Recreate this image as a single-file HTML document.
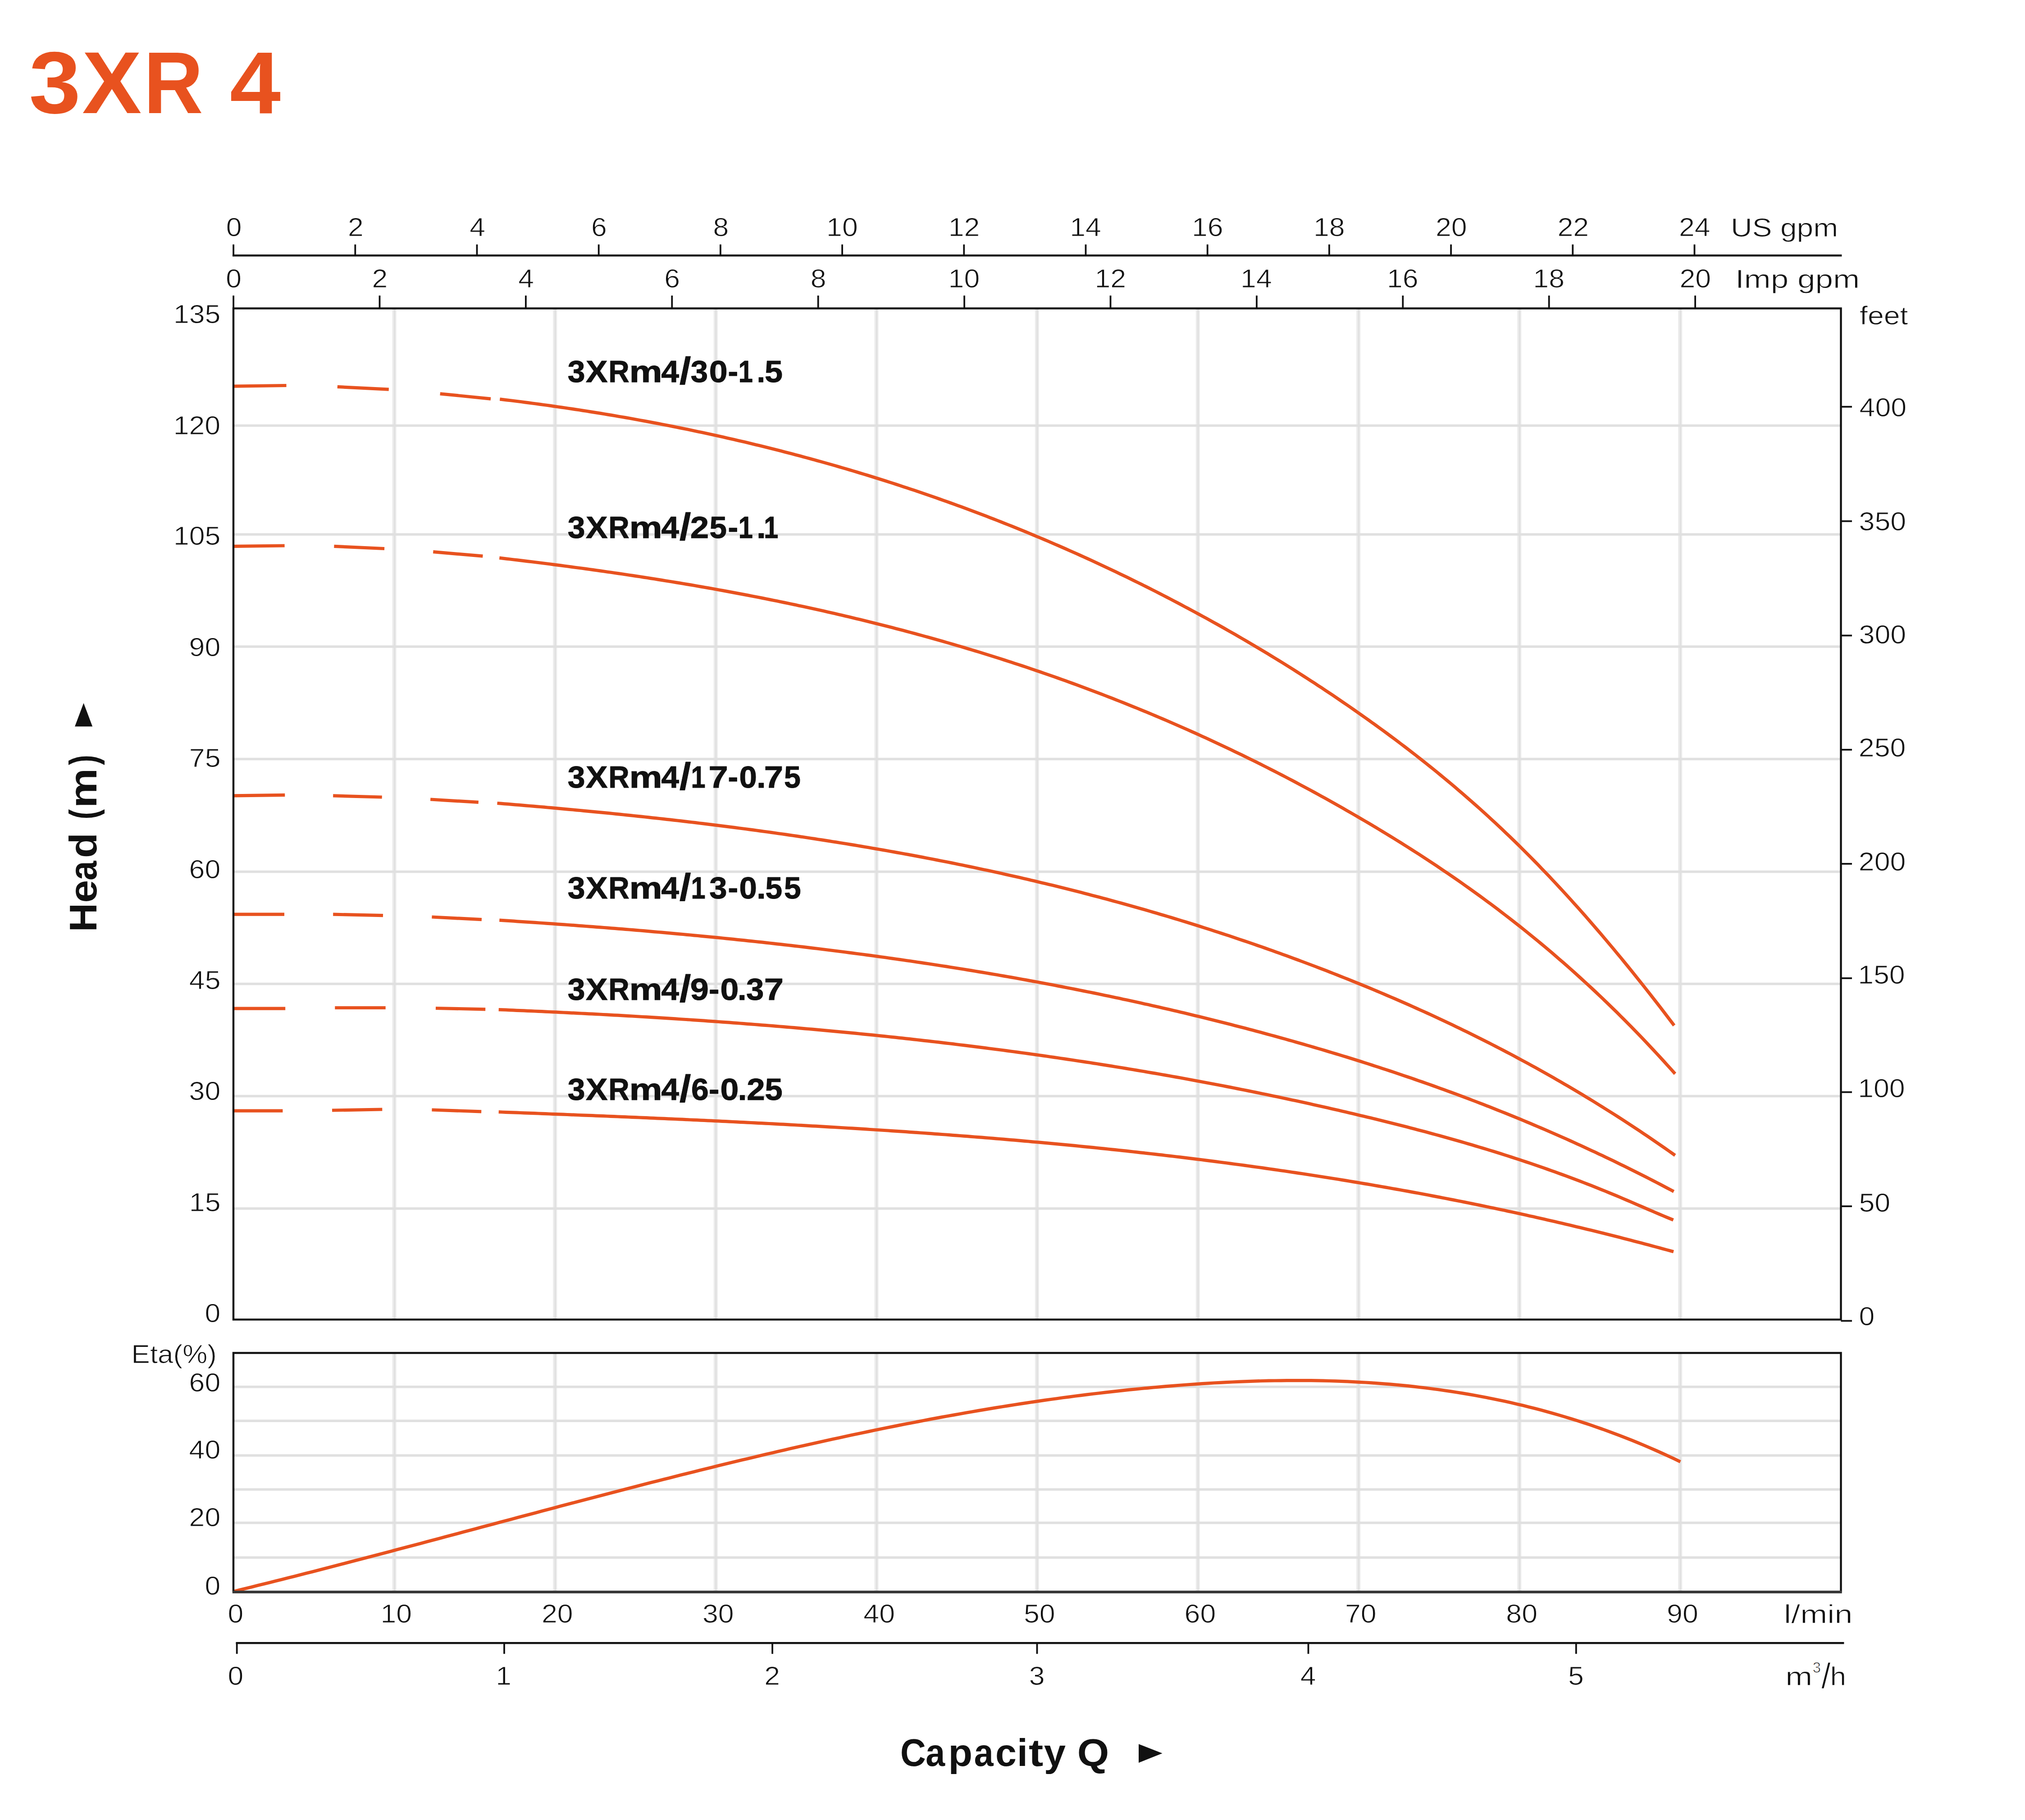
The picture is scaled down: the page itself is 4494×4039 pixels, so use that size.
<!DOCTYPE html>
<html><head><meta charset="utf-8"><title>3XR 4</title>
<style>
html,body{margin:0;padding:0;background:#fff;}
svg{display:block;}
text{font-family:"Liberation Sans",Arial,sans-serif;font-kerning:none;}
.r{stroke:#fff;stroke-width:1px;}
</style></head>
<body>
<svg xmlns="http://www.w3.org/2000/svg" width="4494" height="4039" viewBox="0 0 4494 4039">
<rect width="4494" height="4039" fill="#fff"/>
<line x1="875.0" y1="684.4" x2="875.0" y2="2928.4" stroke="#ECECEC" stroke-width="9" stroke-linecap="butt"/>
<line x1="875.0" y1="3002.5" x2="875.0" y2="3532.5" stroke="#ECECEC" stroke-width="9" stroke-linecap="butt"/>
<line x1="875.5" y1="684.4" x2="875.5" y2="2928.4" stroke="#E0E0E0" stroke-width="3.2" stroke-linecap="butt"/>
<line x1="875.5" y1="3002.5" x2="875.5" y2="3532.5" stroke="#E0E0E0" stroke-width="3.2" stroke-linecap="butt"/>
<line x1="1231.7" y1="684.4" x2="1231.7" y2="2928.4" stroke="#ECECEC" stroke-width="9" stroke-linecap="butt"/>
<line x1="1231.7" y1="3002.5" x2="1231.7" y2="3532.5" stroke="#ECECEC" stroke-width="9" stroke-linecap="butt"/>
<line x1="1232.2" y1="684.4" x2="1232.2" y2="2928.4" stroke="#E0E0E0" stroke-width="3.2" stroke-linecap="butt"/>
<line x1="1232.2" y1="3002.5" x2="1232.2" y2="3532.5" stroke="#E0E0E0" stroke-width="3.2" stroke-linecap="butt"/>
<line x1="1588.3" y1="684.4" x2="1588.3" y2="2928.4" stroke="#ECECEC" stroke-width="9" stroke-linecap="butt"/>
<line x1="1588.3" y1="3002.5" x2="1588.3" y2="3532.5" stroke="#ECECEC" stroke-width="9" stroke-linecap="butt"/>
<line x1="1588.8" y1="684.4" x2="1588.8" y2="2928.4" stroke="#E0E0E0" stroke-width="3.2" stroke-linecap="butt"/>
<line x1="1588.8" y1="3002.5" x2="1588.8" y2="3532.5" stroke="#E0E0E0" stroke-width="3.2" stroke-linecap="butt"/>
<line x1="1945.1" y1="684.4" x2="1945.1" y2="2928.4" stroke="#ECECEC" stroke-width="9" stroke-linecap="butt"/>
<line x1="1945.1" y1="3002.5" x2="1945.1" y2="3532.5" stroke="#ECECEC" stroke-width="9" stroke-linecap="butt"/>
<line x1="1945.6" y1="684.4" x2="1945.6" y2="2928.4" stroke="#E0E0E0" stroke-width="3.2" stroke-linecap="butt"/>
<line x1="1945.6" y1="3002.5" x2="1945.6" y2="3532.5" stroke="#E0E0E0" stroke-width="3.2" stroke-linecap="butt"/>
<line x1="2301.3" y1="684.4" x2="2301.3" y2="2928.4" stroke="#ECECEC" stroke-width="9" stroke-linecap="butt"/>
<line x1="2301.3" y1="3002.5" x2="2301.3" y2="3532.5" stroke="#ECECEC" stroke-width="9" stroke-linecap="butt"/>
<line x1="2301.8" y1="684.4" x2="2301.8" y2="2928.4" stroke="#E0E0E0" stroke-width="3.2" stroke-linecap="butt"/>
<line x1="2301.8" y1="3002.5" x2="2301.8" y2="3532.5" stroke="#E0E0E0" stroke-width="3.2" stroke-linecap="butt"/>
<line x1="2658.3" y1="684.4" x2="2658.3" y2="2928.4" stroke="#ECECEC" stroke-width="9" stroke-linecap="butt"/>
<line x1="2658.3" y1="3002.5" x2="2658.3" y2="3532.5" stroke="#ECECEC" stroke-width="9" stroke-linecap="butt"/>
<line x1="2658.8" y1="684.4" x2="2658.8" y2="2928.4" stroke="#E0E0E0" stroke-width="3.2" stroke-linecap="butt"/>
<line x1="2658.8" y1="3002.5" x2="2658.8" y2="3532.5" stroke="#E0E0E0" stroke-width="3.2" stroke-linecap="butt"/>
<line x1="3014.7" y1="684.4" x2="3014.7" y2="2928.4" stroke="#ECECEC" stroke-width="9" stroke-linecap="butt"/>
<line x1="3014.7" y1="3002.5" x2="3014.7" y2="3532.5" stroke="#ECECEC" stroke-width="9" stroke-linecap="butt"/>
<line x1="3015.2" y1="684.4" x2="3015.2" y2="2928.4" stroke="#E0E0E0" stroke-width="3.2" stroke-linecap="butt"/>
<line x1="3015.2" y1="3002.5" x2="3015.2" y2="3532.5" stroke="#E0E0E0" stroke-width="3.2" stroke-linecap="butt"/>
<line x1="3371.8" y1="684.4" x2="3371.8" y2="2928.4" stroke="#ECECEC" stroke-width="9" stroke-linecap="butt"/>
<line x1="3371.8" y1="3002.5" x2="3371.8" y2="3532.5" stroke="#ECECEC" stroke-width="9" stroke-linecap="butt"/>
<line x1="3372.3" y1="684.4" x2="3372.3" y2="2928.4" stroke="#E0E0E0" stroke-width="3.2" stroke-linecap="butt"/>
<line x1="3372.3" y1="3002.5" x2="3372.3" y2="3532.5" stroke="#E0E0E0" stroke-width="3.2" stroke-linecap="butt"/>
<line x1="3728.7" y1="684.4" x2="3728.7" y2="2928.4" stroke="#ECECEC" stroke-width="9" stroke-linecap="butt"/>
<line x1="3728.7" y1="3002.5" x2="3728.7" y2="3532.5" stroke="#ECECEC" stroke-width="9" stroke-linecap="butt"/>
<line x1="3729.2" y1="684.4" x2="3729.2" y2="2928.4" stroke="#E0E0E0" stroke-width="3.2" stroke-linecap="butt"/>
<line x1="3729.2" y1="3002.5" x2="3729.2" y2="3532.5" stroke="#E0E0E0" stroke-width="3.2" stroke-linecap="butt"/>
<line x1="518.0" y1="944.4" x2="4085.5" y2="944.4" stroke="#E0E0E0" stroke-width="5.5" stroke-linecap="butt"/>
<line x1="518.0" y1="1186.0" x2="4085.5" y2="1186.0" stroke="#E0E0E0" stroke-width="5.5" stroke-linecap="butt"/>
<line x1="518.0" y1="1435.0" x2="4085.5" y2="1435.0" stroke="#E0E0E0" stroke-width="5.5" stroke-linecap="butt"/>
<line x1="518.0" y1="1684.4" x2="4085.5" y2="1684.4" stroke="#E0E0E0" stroke-width="5.5" stroke-linecap="butt"/>
<line x1="518.0" y1="1934.4" x2="4085.5" y2="1934.4" stroke="#E0E0E0" stroke-width="5.5" stroke-linecap="butt"/>
<line x1="518.0" y1="2183.5" x2="4085.5" y2="2183.5" stroke="#E0E0E0" stroke-width="5.5" stroke-linecap="butt"/>
<line x1="518.0" y1="2432.6" x2="4085.5" y2="2432.6" stroke="#E0E0E0" stroke-width="5.5" stroke-linecap="butt"/>
<line x1="518.0" y1="2682.0" x2="4085.5" y2="2682.0" stroke="#E0E0E0" stroke-width="5.5" stroke-linecap="butt"/>
<line x1="518.0" y1="3077.8" x2="4085.5" y2="3077.8" stroke="#E0E0E0" stroke-width="5.5" stroke-linecap="butt"/>
<line x1="518.0" y1="3153.3" x2="4085.5" y2="3153.3" stroke="#E0E0E0" stroke-width="5.5" stroke-linecap="butt"/>
<line x1="518.0" y1="3230.0" x2="4085.5" y2="3230.0" stroke="#E0E0E0" stroke-width="5.5" stroke-linecap="butt"/>
<line x1="518.0" y1="3305.5" x2="4085.5" y2="3305.5" stroke="#E0E0E0" stroke-width="5.5" stroke-linecap="butt"/>
<line x1="518.0" y1="3379.5" x2="4085.5" y2="3379.5" stroke="#E0E0E0" stroke-width="5.5" stroke-linecap="butt"/>
<line x1="518.0" y1="3456.5" x2="4085.5" y2="3456.5" stroke="#E0E0E0" stroke-width="5.5" stroke-linecap="butt"/>
<line x1="518.0" y1="857.1" x2="635.5" y2="855.5" stroke="#E8521F" stroke-width="7.2" stroke-linecap="butt"/>
<line x1="748.8" y1="858.4" x2="862.8" y2="864.2" stroke="#E8521F" stroke-width="7.2" stroke-linecap="butt"/>
<line x1="976.7" y1="873.8" x2="1089.0" y2="885.1" stroke="#E8521F" stroke-width="7.2" stroke-linecap="butt"/>
<path d="M1109.3,885.9 L1117.3,886.9 L1125.3,887.8 L1133.3,888.8 L1141.3,889.8 L1149.3,890.8 L1157.3,891.8 L1165.3,892.9 L1173.3,893.9 L1181.3,895.0 L1189.3,896.0 L1197.3,897.1 L1205.3,898.2 L1213.3,899.3 L1221.3,900.4 L1229.3,901.6 L1237.3,902.7 L1245.3,903.9 L1253.3,905.0 L1261.3,906.2 L1269.3,907.4 L1277.3,908.6 L1285.3,909.8 L1293.3,911.1 L1301.3,912.3 L1309.3,913.6 L1317.3,914.9 L1325.3,916.1 L1333.3,917.4 L1341.3,918.8 L1349.3,920.1 L1357.3,921.4 L1365.3,922.8 L1373.3,924.2 L1381.3,925.5 L1389.3,926.9 L1397.3,928.3 L1405.3,929.8 L1413.3,931.2 L1421.3,932.7 L1429.3,934.1 L1437.3,935.6 L1445.3,937.1 L1453.3,938.6 L1461.3,940.1 L1469.3,941.7 L1477.3,943.2 L1485.3,944.8 L1493.3,946.4 L1501.3,948.0 L1509.3,949.6 L1517.3,951.2 L1525.3,952.8 L1533.3,954.5 L1541.3,956.2 L1549.3,957.9 L1557.3,959.6 L1565.3,961.3 L1573.3,963.0 L1581.3,964.7 L1589.3,966.5 L1597.3,968.3 L1605.3,970.1 L1613.3,971.9 L1621.3,973.7 L1629.3,975.5 L1637.3,977.4 L1645.3,979.2 L1653.3,981.1 L1661.3,983.0 L1669.3,984.9 L1677.3,986.9 L1685.3,988.8 L1693.3,990.8 L1701.3,992.8 L1709.3,994.8 L1717.3,996.8 L1725.3,998.8 L1733.3,1000.8 L1741.3,1002.9 L1749.3,1005.0 L1757.3,1007.1 L1765.3,1009.2 L1773.3,1011.3 L1781.3,1013.4 L1789.3,1015.6 L1797.3,1017.8 L1805.3,1019.9 L1813.3,1022.2 L1821.3,1024.4 L1829.3,1026.6 L1837.3,1028.9 L1845.3,1031.1 L1853.3,1033.4 L1861.3,1035.7 L1869.3,1038.1 L1877.3,1040.4 L1885.3,1042.8 L1893.3,1045.1 L1901.3,1047.5 L1909.3,1050.0 L1917.3,1052.4 L1925.3,1054.8 L1933.3,1057.3 L1941.3,1059.8 L1949.3,1062.3 L1957.3,1064.8 L1965.3,1067.3 L1973.3,1069.9 L1981.3,1072.4 L1989.3,1075.0 L1997.3,1077.6 L2005.3,1080.3 L2013.3,1082.9 L2021.3,1085.6 L2029.3,1088.2 L2037.3,1090.9 L2045.3,1093.6 L2053.3,1096.4 L2061.3,1099.1 L2069.3,1101.9 L2077.3,1104.7 L2085.3,1107.5 L2093.3,1110.3 L2101.3,1113.2 L2109.3,1116.0 L2117.3,1118.9 L2125.3,1121.8 L2133.3,1124.7 L2141.3,1127.7 L2149.3,1130.6 L2157.3,1133.6 L2165.3,1136.6 L2173.3,1139.6 L2181.3,1142.7 L2189.3,1145.7 L2197.3,1148.8 L2205.3,1151.9 L2213.3,1155.0 L2221.3,1158.2 L2229.3,1161.3 L2237.3,1164.5 L2245.3,1167.7 L2253.3,1170.9 L2261.3,1174.2 L2269.3,1177.4 L2277.3,1180.7 L2285.3,1184.0 L2293.3,1187.3 L2301.3,1190.7 L2309.3,1194.0 L2317.3,1197.4 L2325.3,1200.8 L2333.3,1204.2 L2341.3,1207.7 L2349.3,1211.1 L2357.3,1214.6 L2365.3,1218.1 L2373.3,1221.7 L2381.3,1225.2 L2389.3,1228.8 L2397.3,1232.4 L2405.3,1236.0 L2413.3,1239.6 L2421.3,1243.3 L2429.3,1247.0 L2437.3,1250.7 L2445.3,1254.4 L2453.3,1258.2 L2461.3,1261.9 L2469.3,1265.7 L2477.3,1269.5 L2485.3,1273.4 L2493.3,1277.2 L2501.3,1281.1 L2509.3,1285.0 L2517.3,1288.9 L2525.3,1292.9 L2533.3,1296.8 L2541.3,1300.8 L2549.3,1304.8 L2557.3,1308.9 L2565.3,1312.9 L2573.3,1317.0 L2581.3,1321.1 L2589.3,1325.3 L2597.3,1329.4 L2605.3,1333.6 L2613.3,1337.8 L2621.3,1342.0 L2629.3,1346.3 L2637.3,1350.5 L2645.3,1354.8 L2653.3,1359.1 L2661.3,1363.5 L2669.3,1367.8 L2677.3,1372.2 L2685.3,1376.6 L2693.3,1381.1 L2701.3,1385.5 L2709.3,1390.0 L2717.3,1394.5 L2725.3,1399.1 L2733.3,1403.6 L2741.3,1408.2 L2749.3,1412.8 L2757.3,1417.5 L2765.3,1422.2 L2773.3,1426.8 L2781.3,1431.6 L2789.3,1436.3 L2797.3,1441.1 L2805.3,1445.9 L2813.3,1450.7 L2821.3,1455.6 L2829.3,1460.5 L2837.3,1465.4 L2845.3,1470.3 L2853.3,1475.3 L2861.3,1480.3 L2869.3,1485.3 L2877.3,1490.4 L2885.3,1495.5 L2893.3,1500.6 L2901.3,1505.7 L2909.3,1510.9 L2917.3,1516.1 L2925.3,1521.4 L2933.3,1526.6 L2941.3,1531.9 L2949.3,1537.3 L2957.3,1542.6 L2965.3,1548.0 L2973.3,1553.5 L2981.3,1558.9 L2989.3,1564.4 L2997.3,1569.9 L3005.3,1575.5 L3013.3,1581.1 L3021.3,1586.7 L3029.3,1592.4 L3037.3,1598.0 L3045.3,1603.8 L3053.3,1609.5 L3061.3,1615.3 L3069.3,1621.2 L3077.3,1627.0 L3085.3,1633.0 L3093.3,1638.9 L3101.3,1644.9 L3109.3,1651.0 L3117.3,1657.0 L3125.3,1663.2 L3133.3,1669.3 L3141.3,1675.5 L3149.3,1681.8 L3157.3,1688.1 L3165.3,1694.5 L3173.3,1700.9 L3181.3,1707.3 L3189.3,1713.8 L3197.3,1720.4 L3205.3,1727.0 L3213.3,1733.6 L3221.3,1740.3 L3229.3,1747.1 L3237.3,1753.9 L3245.3,1760.8 L3253.3,1767.7 L3261.3,1774.7 L3269.3,1781.7 L3277.3,1788.8 L3285.3,1795.9 L3293.3,1803.2 L3301.3,1810.4 L3309.3,1817.8 L3317.3,1825.2 L3325.3,1832.6 L3333.3,1840.2 L3341.3,1847.8 L3349.3,1855.4 L3357.3,1863.1 L3365.3,1870.9 L3373.3,1878.8 L3381.3,1886.7 L3389.3,1894.7 L3397.3,1902.8 L3405.3,1910.9 L3413.3,1919.1 L3421.3,1927.4 L3429.3,1935.7 L3437.3,1944.1 L3445.3,1952.6 L3453.3,1961.1 L3461.3,1969.7 L3469.3,1978.4 L3477.3,1987.1 L3485.3,1995.9 L3493.3,2004.8 L3501.3,2013.7 L3509.3,2022.7 L3517.3,2031.7 L3525.3,2040.9 L3533.3,2050.1 L3541.3,2059.3 L3549.3,2068.6 L3557.3,2078.0 L3565.3,2087.5 L3573.3,2097.0 L3581.3,2106.5 L3589.3,2116.2 L3597.3,2125.8 L3605.3,2135.6 L3613.3,2145.4 L3621.3,2155.3 L3629.3,2165.2 L3637.3,2175.2 L3645.3,2185.2 L3653.3,2195.4 L3661.3,2205.5 L3669.3,2215.7 L3677.3,2226.0 L3685.3,2236.3 L3693.3,2246.7 L3701.3,2257.2 L3709.3,2267.7 L3715.4,2275.7" fill="none" stroke="#E8521F" stroke-width="7.2" stroke-linejoin="round" stroke-linecap="butt"/>
<line x1="518.0" y1="1212.4" x2="631.6" y2="1211.0" stroke="#E8521F" stroke-width="7.2" stroke-linecap="butt"/>
<line x1="741.4" y1="1212.4" x2="853.1" y2="1217.5" stroke="#E8521F" stroke-width="7.2" stroke-linecap="butt"/>
<line x1="961.3" y1="1224.6" x2="1071.4" y2="1234.2" stroke="#E8521F" stroke-width="7.2" stroke-linecap="butt"/>
<path d="M1108.3,1238.2 L1116.3,1239.1 L1124.3,1240.1 L1132.3,1241.0 L1140.3,1242.0 L1148.3,1242.9 L1156.3,1243.9 L1164.3,1244.9 L1172.3,1245.8 L1180.3,1246.8 L1188.3,1247.8 L1196.3,1248.8 L1204.3,1249.8 L1212.3,1250.8 L1220.3,1251.8 L1228.3,1252.9 L1236.3,1253.9 L1244.3,1254.9 L1252.3,1256.0 L1260.3,1257.0 L1268.3,1258.1 L1276.3,1259.2 L1284.3,1260.2 L1292.3,1261.3 L1300.3,1262.4 L1308.3,1263.5 L1316.3,1264.6 L1324.3,1265.8 L1332.3,1266.9 L1340.3,1268.0 L1348.3,1269.2 L1356.3,1270.3 L1364.3,1271.5 L1372.3,1272.6 L1380.3,1273.8 L1388.3,1275.0 L1396.3,1276.2 L1404.3,1277.4 L1412.3,1278.6 L1420.3,1279.8 L1428.3,1281.1 L1436.3,1282.3 L1444.3,1283.6 L1452.3,1284.8 L1460.3,1286.1 L1468.3,1287.4 L1476.3,1288.7 L1484.3,1290.0 L1492.3,1291.3 L1500.3,1292.6 L1508.3,1293.9 L1516.3,1295.2 L1524.3,1296.6 L1532.3,1297.9 L1540.3,1299.3 L1548.3,1300.7 L1556.3,1302.1 L1564.3,1303.5 L1572.3,1304.9 L1580.3,1306.3 L1588.3,1307.7 L1596.3,1309.2 L1604.3,1310.6 L1612.3,1312.1 L1620.3,1313.6 L1628.3,1315.1 L1636.3,1316.6 L1644.3,1318.1 L1652.3,1319.6 L1660.3,1321.1 L1668.3,1322.7 L1676.3,1324.2 L1684.3,1325.8 L1692.3,1327.4 L1700.3,1329.0 L1708.3,1330.6 L1716.3,1332.2 L1724.3,1333.8 L1732.3,1335.5 L1740.3,1337.1 L1748.3,1338.8 L1756.3,1340.5 L1764.3,1342.1 L1772.3,1343.9 L1780.3,1345.6 L1788.3,1347.3 L1796.3,1349.0 L1804.3,1350.8 L1812.3,1352.6 L1820.3,1354.3 L1828.3,1356.1 L1836.3,1357.9 L1844.3,1359.8 L1852.3,1361.6 L1860.3,1363.4 L1868.3,1365.3 L1876.3,1367.2 L1884.3,1369.1 L1892.3,1371.0 L1900.3,1372.9 L1908.3,1374.8 L1916.3,1376.8 L1924.3,1378.7 L1932.3,1380.7 L1940.3,1382.7 L1948.3,1384.7 L1956.3,1386.7 L1964.3,1388.7 L1972.3,1390.8 L1980.3,1392.8 L1988.3,1394.9 L1996.3,1397.0 L2004.3,1399.1 L2012.3,1401.2 L2020.3,1403.4 L2028.3,1405.5 L2036.3,1407.7 L2044.3,1409.9 L2052.3,1412.1 L2060.3,1414.3 L2068.3,1416.5 L2076.3,1418.8 L2084.3,1421.0 L2092.3,1423.3 L2100.3,1425.6 L2108.3,1427.9 L2116.3,1430.2 L2124.3,1432.6 L2132.3,1434.9 L2140.3,1437.3 L2148.3,1439.7 L2156.3,1442.1 L2164.3,1444.5 L2172.3,1446.9 L2180.3,1449.4 L2188.3,1451.9 L2196.3,1454.4 L2204.3,1456.9 L2212.3,1459.4 L2220.3,1461.9 L2228.3,1464.5 L2236.3,1467.1 L2244.3,1469.7 L2252.3,1472.3 L2260.3,1474.9 L2268.3,1477.5 L2276.3,1480.2 L2284.3,1482.9 L2292.3,1485.6 L2300.3,1488.3 L2308.3,1491.0 L2316.3,1493.8 L2324.3,1496.6 L2332.3,1499.4 L2340.3,1502.2 L2348.3,1505.0 L2356.3,1507.8 L2364.3,1510.7 L2372.3,1513.6 L2380.3,1516.5 L2388.3,1519.4 L2396.3,1522.4 L2404.3,1525.3 L2412.3,1528.3 L2420.3,1531.3 L2428.3,1534.3 L2436.3,1537.3 L2444.3,1540.4 L2452.3,1543.5 L2460.3,1546.6 L2468.3,1549.7 L2476.3,1552.8 L2484.3,1556.0 L2492.3,1559.1 L2500.3,1562.3 L2508.3,1565.6 L2516.3,1568.8 L2524.3,1572.0 L2532.3,1575.3 L2540.3,1578.6 L2548.3,1581.9 L2556.3,1585.3 L2564.3,1588.6 L2572.3,1592.0 L2580.3,1595.4 L2588.3,1598.8 L2596.3,1602.3 L2604.3,1605.7 L2612.3,1609.2 L2620.3,1612.7 L2628.3,1616.2 L2636.3,1619.8 L2644.3,1623.4 L2652.3,1626.9 L2660.3,1630.6 L2668.3,1634.2 L2676.3,1637.8 L2684.3,1641.5 L2692.3,1645.2 L2700.3,1648.9 L2708.3,1652.7 L2716.3,1656.4 L2724.3,1660.2 L2732.3,1664.0 L2740.3,1667.9 L2748.3,1671.7 L2756.3,1675.6 L2764.3,1679.5 L2772.3,1683.4 L2780.3,1687.4 L2788.3,1691.3 L2796.3,1695.3 L2804.3,1699.4 L2812.3,1703.4 L2820.3,1707.5 L2828.3,1711.5 L2836.3,1715.6 L2844.3,1719.8 L2852.3,1723.9 L2860.3,1728.1 L2868.3,1732.3 L2876.3,1736.5 L2884.3,1740.8 L2892.3,1745.1 L2900.3,1749.4 L2908.3,1753.7 L2916.3,1758.0 L2924.3,1762.4 L2932.3,1766.8 L2940.3,1771.2 L2948.3,1775.7 L2956.3,1780.1 L2964.3,1784.6 L2972.3,1789.1 L2980.3,1793.7 L2988.3,1798.3 L2996.3,1802.8 L3004.3,1807.5 L3012.3,1812.1 L3020.3,1816.8 L3028.3,1821.5 L3036.3,1826.2 L3044.3,1830.9 L3052.3,1835.7 L3060.3,1840.5 L3068.3,1845.3 L3076.3,1850.2 L3084.3,1855.1 L3092.3,1860.0 L3100.3,1865.0 L3108.3,1869.9 L3116.3,1875.0 L3124.3,1880.0 L3132.3,1885.1 L3140.3,1890.2 L3148.3,1895.3 L3156.3,1900.5 L3164.3,1905.7 L3172.3,1911.0 L3180.3,1916.3 L3188.3,1921.6 L3196.3,1927.0 L3204.3,1932.4 L3212.3,1937.8 L3220.3,1943.3 L3228.3,1948.8 L3236.3,1954.3 L3244.3,1959.9 L3252.3,1965.6 L3260.3,1971.3 L3268.3,1977.0 L3276.3,1982.7 L3284.3,1988.5 L3292.3,1994.4 L3300.3,2000.3 L3308.3,2006.2 L3316.3,2012.2 L3324.3,2018.2 L3332.3,2024.3 L3340.3,2030.5 L3348.3,2036.6 L3356.3,2042.8 L3364.3,2049.1 L3372.3,2055.4 L3380.3,2061.8 L3388.3,2068.2 L3396.3,2074.7 L3404.3,2081.2 L3412.3,2087.8 L3420.3,2094.4 L3428.3,2101.1 L3436.3,2107.8 L3444.3,2114.6 L3452.3,2121.5 L3460.3,2128.4 L3468.3,2135.3 L3476.3,2142.3 L3484.3,2149.4 L3492.3,2156.5 L3500.3,2163.7 L3508.3,2171.0 L3516.3,2178.3 L3524.3,2185.6 L3532.3,2193.0 L3540.3,2200.5 L3548.3,2208.1 L3556.3,2215.7 L3564.3,2223.3 L3572.3,2231.1 L3580.3,2238.9 L3588.3,2246.7 L3596.3,2254.7 L3604.3,2262.6 L3612.3,2270.7 L3620.3,2278.8 L3628.3,2287.0 L3636.3,2295.3 L3644.3,2303.6 L3652.3,2312.0 L3660.3,2320.5 L3668.3,2329.0 L3676.3,2337.6 L3684.3,2346.3 L3692.3,2355.0 L3700.3,2363.8 L3708.3,2372.7 L3716.3,2381.7 L3717.5,2383.0" fill="none" stroke="#E8521F" stroke-width="7.2" stroke-linejoin="round" stroke-linecap="butt"/>
<line x1="518.0" y1="1765.9" x2="632.3" y2="1764.3" stroke="#E8521F" stroke-width="7.2" stroke-linecap="butt"/>
<line x1="739.2" y1="1765.9" x2="847.7" y2="1769.0" stroke="#E8521F" stroke-width="7.2" stroke-linecap="butt"/>
<line x1="955.2" y1="1774.0" x2="1061.8" y2="1780.4" stroke="#E8521F" stroke-width="7.2" stroke-linecap="butt"/>
<path d="M1103.5,1782.5 L1111.5,1783.1 L1119.5,1783.8 L1127.5,1784.4 L1135.5,1785.1 L1143.5,1785.8 L1151.5,1786.4 L1159.5,1787.1 L1167.5,1787.8 L1175.5,1788.5 L1183.5,1789.2 L1191.5,1789.8 L1199.5,1790.5 L1207.5,1791.2 L1215.5,1792.0 L1223.5,1792.7 L1231.5,1793.4 L1239.5,1794.1 L1247.5,1794.8 L1255.5,1795.6 L1263.5,1796.3 L1271.5,1797.0 L1279.5,1797.8 L1287.5,1798.5 L1295.5,1799.3 L1303.5,1800.1 L1311.5,1800.8 L1319.5,1801.6 L1327.5,1802.4 L1335.5,1803.2 L1343.5,1803.9 L1351.5,1804.7 L1359.5,1805.5 L1367.5,1806.4 L1375.5,1807.2 L1383.5,1808.0 L1391.5,1808.8 L1399.5,1809.6 L1407.5,1810.5 L1415.5,1811.3 L1423.5,1812.2 L1431.5,1813.0 L1439.5,1813.9 L1447.5,1814.8 L1455.5,1815.6 L1463.5,1816.5 L1471.5,1817.4 L1479.5,1818.3 L1487.5,1819.2 L1495.5,1820.1 L1503.5,1821.0 L1511.5,1821.9 L1519.5,1822.9 L1527.5,1823.8 L1535.5,1824.8 L1543.5,1825.7 L1551.5,1826.7 L1559.5,1827.6 L1567.5,1828.6 L1575.5,1829.6 L1583.5,1830.6 L1591.5,1831.6 L1599.5,1832.6 L1607.5,1833.6 L1615.5,1834.6 L1623.5,1835.6 L1631.5,1836.6 L1639.5,1837.7 L1647.5,1838.7 L1655.5,1839.8 L1663.5,1840.9 L1671.5,1841.9 L1679.5,1843.0 L1687.5,1844.1 L1695.5,1845.2 L1703.5,1846.3 L1711.5,1847.4 L1719.5,1848.5 L1727.5,1849.7 L1735.5,1850.8 L1743.5,1851.9 L1751.5,1853.1 L1759.5,1854.3 L1767.5,1855.4 L1775.5,1856.6 L1783.5,1857.8 L1791.5,1859.0 L1799.5,1860.2 L1807.5,1861.4 L1815.5,1862.7 L1823.5,1863.9 L1831.5,1865.1 L1839.5,1866.4 L1847.5,1867.7 L1855.5,1868.9 L1863.5,1870.2 L1871.5,1871.5 L1879.5,1872.8 L1887.5,1874.1 L1895.5,1875.4 L1903.5,1876.8 L1911.5,1878.1 L1919.5,1879.5 L1927.5,1880.8 L1935.5,1882.2 L1943.5,1883.6 L1951.5,1885.0 L1959.5,1886.4 L1967.5,1887.8 L1975.5,1889.2 L1983.5,1890.6 L1991.5,1892.1 L1999.5,1893.5 L2007.5,1895.0 L2015.5,1896.4 L2023.5,1897.9 L2031.5,1899.4 L2039.5,1900.9 L2047.5,1902.4 L2055.5,1904.0 L2063.5,1905.5 L2071.5,1907.0 L2079.5,1908.6 L2087.5,1910.2 L2095.5,1911.8 L2103.5,1913.3 L2111.5,1914.9 L2119.5,1916.6 L2127.5,1918.2 L2135.5,1919.8 L2143.5,1921.5 L2151.5,1923.1 L2159.5,1924.8 L2167.5,1926.5 L2175.5,1928.2 L2183.5,1929.9 L2191.5,1931.6 L2199.5,1933.3 L2207.5,1935.1 L2215.5,1936.8 L2223.5,1938.6 L2231.5,1940.4 L2239.5,1942.2 L2247.5,1944.0 L2255.5,1945.8 L2263.5,1947.6 L2271.5,1949.5 L2279.5,1951.3 L2287.5,1953.2 L2295.5,1955.1 L2303.5,1957.0 L2311.5,1958.9 L2319.5,1960.8 L2327.5,1962.7 L2335.5,1964.6 L2343.5,1966.6 L2351.5,1968.6 L2359.5,1970.5 L2367.5,1972.5 L2375.5,1974.5 L2383.5,1976.6 L2391.5,1978.6 L2399.5,1980.6 L2407.5,1982.7 L2415.5,1984.8 L2423.5,1986.9 L2431.5,1989.0 L2439.5,1991.1 L2447.5,1993.2 L2455.5,1995.3 L2463.5,1997.5 L2471.5,1999.7 L2479.5,2001.9 L2487.5,2004.0 L2495.5,2006.3 L2503.5,2008.5 L2511.5,2010.7 L2519.5,2013.0 L2527.5,2015.2 L2535.5,2017.5 L2543.5,2019.8 L2551.5,2022.1 L2559.5,2024.5 L2567.5,2026.8 L2575.5,2029.2 L2583.5,2031.5 L2591.5,2033.9 L2599.5,2036.3 L2607.5,2038.7 L2615.5,2041.1 L2623.5,2043.6 L2631.5,2046.0 L2639.5,2048.5 L2647.5,2051.0 L2655.5,2053.5 L2663.5,2056.0 L2671.5,2058.6 L2679.5,2061.1 L2687.5,2063.7 L2695.5,2066.3 L2703.5,2068.9 L2711.5,2071.5 L2719.5,2074.1 L2727.5,2076.7 L2735.5,2079.4 L2743.5,2082.1 L2751.5,2084.8 L2759.5,2087.5 L2767.5,2090.2 L2775.5,2092.9 L2783.5,2095.7 L2791.5,2098.5 L2799.5,2101.2 L2807.5,2104.0 L2815.5,2106.9 L2823.5,2109.7 L2831.5,2112.6 L2839.5,2115.4 L2847.5,2118.3 L2855.5,2121.2 L2863.5,2124.1 L2871.5,2127.1 L2879.5,2130.0 L2887.5,2133.0 L2895.5,2136.0 L2903.5,2139.0 L2911.5,2142.0 L2919.5,2145.0 L2927.5,2148.1 L2935.5,2151.2 L2943.5,2154.2 L2951.5,2157.4 L2959.5,2160.5 L2967.5,2163.6 L2975.5,2166.8 L2983.5,2170.0 L2991.5,2173.2 L2999.5,2176.4 L3007.5,2179.6 L3015.5,2182.8 L3023.5,2186.1 L3031.5,2189.4 L3039.5,2192.7 L3047.5,2196.0 L3055.5,2199.4 L3063.5,2202.8 L3071.5,2206.1 L3079.5,2209.6 L3087.5,2213.0 L3095.5,2216.4 L3103.5,2219.9 L3111.5,2223.4 L3119.5,2226.9 L3127.5,2230.4 L3135.5,2234.0 L3143.5,2237.6 L3151.5,2241.2 L3159.5,2244.8 L3167.5,2248.4 L3175.5,2252.1 L3183.5,2255.8 L3191.5,2259.5 L3199.5,2263.3 L3207.5,2267.0 L3215.5,2270.8 L3223.5,2274.6 L3231.5,2278.4 L3239.5,2282.3 L3247.5,2286.2 L3255.5,2290.1 L3263.5,2294.0 L3271.5,2298.0 L3279.5,2302.0 L3287.5,2306.0 L3295.5,2310.0 L3303.5,2314.0 L3311.5,2318.1 L3319.5,2322.2 L3327.5,2326.4 L3335.5,2330.5 L3343.5,2334.7 L3351.5,2338.9 L3359.5,2343.2 L3367.5,2347.5 L3375.5,2351.8 L3383.5,2356.1 L3391.5,2360.4 L3399.5,2364.8 L3407.5,2369.2 L3415.5,2373.7 L3423.5,2378.1 L3431.5,2382.6 L3439.5,2387.2 L3447.5,2391.7 L3455.5,2396.3 L3463.5,2400.9 L3471.5,2405.6 L3479.5,2410.2 L3487.5,2414.9 L3495.5,2419.7 L3503.5,2424.4 L3511.5,2429.2 L3519.5,2434.1 L3527.5,2438.9 L3535.5,2443.8 L3543.5,2448.7 L3551.5,2453.7 L3559.5,2458.7 L3567.5,2463.7 L3575.5,2468.7 L3583.5,2473.8 L3591.5,2478.9 L3599.5,2484.1 L3607.5,2489.3 L3615.5,2494.5 L3623.5,2499.7 L3631.5,2505.0 L3639.5,2510.3 L3647.5,2515.7 L3655.5,2521.1 L3663.5,2526.5 L3671.5,2532.0 L3679.5,2537.4 L3687.5,2543.0 L3695.5,2548.5 L3703.5,2554.1 L3711.5,2559.8 L3717.5,2564.0" fill="none" stroke="#E8521F" stroke-width="7.2" stroke-linejoin="round" stroke-linecap="butt"/>
<line x1="518.0" y1="2029.2" x2="631.0" y2="2029.2" stroke="#E8521F" stroke-width="7.2" stroke-linecap="butt"/>
<line x1="739.2" y1="2029.2" x2="850.0" y2="2031.7" stroke="#E8521F" stroke-width="7.2" stroke-linecap="butt"/>
<line x1="958.4" y1="2035.0" x2="1068.9" y2="2040.7" stroke="#E8521F" stroke-width="7.2" stroke-linecap="butt"/>
<path d="M1108.3,2042.2 L1116.3,2042.7 L1124.3,2043.2 L1132.3,2043.7 L1140.3,2044.2 L1148.3,2044.8 L1156.3,2045.3 L1164.3,2045.8 L1172.3,2046.4 L1180.3,2046.9 L1188.3,2047.4 L1196.3,2048.0 L1204.3,2048.5 L1212.3,2049.1 L1220.3,2049.6 L1228.3,2050.2 L1236.3,2050.8 L1244.3,2051.3 L1252.3,2051.9 L1260.3,2052.5 L1268.3,2053.1 L1276.3,2053.7 L1284.3,2054.3 L1292.3,2054.9 L1300.3,2055.5 L1308.3,2056.1 L1316.3,2056.7 L1324.3,2057.3 L1332.3,2057.9 L1340.3,2058.5 L1348.3,2059.2 L1356.3,2059.8 L1364.3,2060.4 L1372.3,2061.1 L1380.3,2061.7 L1388.3,2062.4 L1396.3,2063.0 L1404.3,2063.7 L1412.3,2064.4 L1420.3,2065.0 L1428.3,2065.7 L1436.3,2066.4 L1444.3,2067.1 L1452.3,2067.8 L1460.3,2068.5 L1468.3,2069.2 L1476.3,2069.9 L1484.3,2070.6 L1492.3,2071.3 L1500.3,2072.1 L1508.3,2072.8 L1516.3,2073.5 L1524.3,2074.3 L1532.3,2075.0 L1540.3,2075.8 L1548.3,2076.5 L1556.3,2077.3 L1564.3,2078.1 L1572.3,2078.8 L1580.3,2079.6 L1588.3,2080.4 L1596.3,2081.2 L1604.3,2082.0 L1612.3,2082.8 L1620.3,2083.6 L1628.3,2084.4 L1636.3,2085.3 L1644.3,2086.1 L1652.3,2086.9 L1660.3,2087.8 L1668.3,2088.6 L1676.3,2089.5 L1684.3,2090.3 L1692.3,2091.2 L1700.3,2092.1 L1708.3,2093.0 L1716.3,2093.9 L1724.3,2094.8 L1732.3,2095.7 L1740.3,2096.6 L1748.3,2097.5 L1756.3,2098.4 L1764.3,2099.3 L1772.3,2100.3 L1780.3,2101.2 L1788.3,2102.1 L1796.3,2103.1 L1804.3,2104.1 L1812.3,2105.0 L1820.3,2106.0 L1828.3,2107.0 L1836.3,2108.0 L1844.3,2109.0 L1852.3,2110.0 L1860.3,2111.0 L1868.3,2112.0 L1876.3,2113.0 L1884.3,2114.1 L1892.3,2115.1 L1900.3,2116.2 L1908.3,2117.2 L1916.3,2118.3 L1924.3,2119.4 L1932.3,2120.4 L1940.3,2121.5 L1948.3,2122.6 L1956.3,2123.7 L1964.3,2124.8 L1972.3,2126.0 L1980.3,2127.1 L1988.3,2128.2 L1996.3,2129.4 L2004.3,2130.5 L2012.3,2131.7 L2020.3,2132.8 L2028.3,2134.0 L2036.3,2135.2 L2044.3,2136.4 L2052.3,2137.6 L2060.3,2138.8 L2068.3,2140.0 L2076.3,2141.2 L2084.3,2142.5 L2092.3,2143.7 L2100.3,2144.9 L2108.3,2146.2 L2116.3,2147.5 L2124.3,2148.7 L2132.3,2150.0 L2140.3,2151.3 L2148.3,2152.6 L2156.3,2153.9 L2164.3,2155.2 L2172.3,2156.6 L2180.3,2157.9 L2188.3,2159.2 L2196.3,2160.6 L2204.3,2162.0 L2212.3,2163.3 L2220.3,2164.7 L2228.3,2166.1 L2236.3,2167.5 L2244.3,2168.9 L2252.3,2170.3 L2260.3,2171.8 L2268.3,2173.2 L2276.3,2174.6 L2284.3,2176.1 L2292.3,2177.6 L2300.3,2179.0 L2308.3,2180.5 L2316.3,2182.0 L2324.3,2183.5 L2332.3,2185.0 L2340.3,2186.5 L2348.3,2188.1 L2356.3,2189.6 L2364.3,2191.2 L2372.3,2192.7 L2380.3,2194.3 L2388.3,2195.9 L2396.3,2197.5 L2404.3,2199.1 L2412.3,2200.7 L2420.3,2202.3 L2428.3,2203.9 L2436.3,2205.6 L2444.3,2207.2 L2452.3,2208.9 L2460.3,2210.6 L2468.3,2212.2 L2476.3,2213.9 L2484.3,2215.6 L2492.3,2217.4 L2500.3,2219.1 L2508.3,2220.8 L2516.3,2222.6 L2524.3,2224.3 L2532.3,2226.1 L2540.3,2227.9 L2548.3,2229.6 L2556.3,2231.4 L2564.3,2233.3 L2572.3,2235.1 L2580.3,2236.9 L2588.3,2238.7 L2596.3,2240.6 L2604.3,2242.5 L2612.3,2244.3 L2620.3,2246.2 L2628.3,2248.1 L2636.3,2250.0 L2644.3,2251.9 L2652.3,2253.9 L2660.3,2255.8 L2668.3,2257.8 L2676.3,2259.7 L2684.3,2261.7 L2692.3,2263.7 L2700.3,2265.7 L2708.3,2267.7 L2716.3,2269.7 L2724.3,2271.8 L2732.3,2273.8 L2740.3,2275.9 L2748.3,2277.9 L2756.3,2280.0 L2764.3,2282.1 L2772.3,2284.2 L2780.3,2286.3 L2788.3,2288.5 L2796.3,2290.6 L2804.3,2292.8 L2812.3,2294.9 L2820.3,2297.1 L2828.3,2299.3 L2836.3,2301.5 L2844.3,2303.7 L2852.3,2305.9 L2860.3,2308.2 L2868.3,2310.4 L2876.3,2312.7 L2884.3,2315.0 L2892.3,2317.3 L2900.3,2319.6 L2908.3,2321.9 L2916.3,2324.2 L2924.3,2326.6 L2932.3,2328.9 L2940.3,2331.3 L2948.3,2333.7 L2956.3,2336.1 L2964.3,2338.5 L2972.3,2340.9 L2980.3,2343.4 L2988.3,2345.8 L2996.3,2348.3 L3004.3,2350.8 L3012.3,2353.3 L3020.3,2355.8 L3028.3,2358.4 L3036.3,2360.9 L3044.3,2363.5 L3052.3,2366.1 L3060.3,2368.6 L3068.3,2371.3 L3076.3,2373.9 L3084.3,2376.5 L3092.3,2379.2 L3100.3,2381.9 L3108.3,2384.6 L3116.3,2387.3 L3124.3,2390.0 L3132.3,2392.7 L3140.3,2395.5 L3148.3,2398.3 L3156.3,2401.0 L3164.3,2403.9 L3172.3,2406.7 L3180.3,2409.5 L3188.3,2412.4 L3196.3,2415.3 L3204.3,2418.2 L3212.3,2421.1 L3220.3,2424.0 L3228.3,2426.9 L3236.3,2429.9 L3244.3,2432.9 L3252.3,2435.9 L3260.3,2438.9 L3268.3,2442.0 L3276.3,2445.0 L3284.3,2448.1 L3292.3,2451.2 L3300.3,2454.3 L3308.3,2457.4 L3316.3,2460.6 L3324.3,2463.8 L3332.3,2467.0 L3340.3,2470.2 L3348.3,2473.4 L3356.3,2476.7 L3364.3,2479.9 L3372.3,2483.2 L3380.3,2486.5 L3388.3,2489.9 L3396.3,2493.2 L3404.3,2496.6 L3412.3,2500.0 L3420.3,2503.4 L3428.3,2506.8 L3436.3,2510.3 L3444.3,2513.7 L3452.3,2517.2 L3460.3,2520.8 L3468.3,2524.3 L3476.3,2527.8 L3484.3,2531.4 L3492.3,2535.0 L3500.3,2538.7 L3508.3,2542.3 L3516.3,2546.0 L3524.3,2549.7 L3532.3,2553.4 L3540.3,2557.1 L3548.3,2560.9 L3556.3,2564.6 L3564.3,2568.4 L3572.3,2572.3 L3580.3,2576.1 L3588.3,2580.0 L3596.3,2583.9 L3604.3,2587.8 L3612.3,2591.7 L3620.3,2595.7 L3628.3,2599.7 L3636.3,2603.7 L3644.3,2607.7 L3652.3,2611.8 L3660.3,2615.9 L3668.3,2620.0 L3676.3,2624.1 L3684.3,2628.3 L3692.3,2632.5 L3700.3,2636.7 L3708.3,2640.9 L3714.5,2644.2" fill="none" stroke="#E8521F" stroke-width="7.2" stroke-linejoin="round" stroke-linecap="butt"/>
<line x1="518.0" y1="2238.2" x2="633.2" y2="2238.2" stroke="#E8521F" stroke-width="7.2" stroke-linecap="butt"/>
<line x1="743.3" y1="2236.5" x2="855.7" y2="2236.5" stroke="#E8521F" stroke-width="7.2" stroke-linecap="butt"/>
<line x1="967.0" y1="2237.5" x2="1077.2" y2="2239.8" stroke="#E8521F" stroke-width="7.2" stroke-linecap="butt"/>
<path d="M1106.7,2240.6 L1114.7,2240.9 L1122.7,2241.2 L1130.7,2241.6 L1138.7,2241.9 L1146.7,2242.3 L1154.7,2242.6 L1162.7,2242.9 L1170.7,2243.3 L1178.7,2243.6 L1186.7,2244.0 L1194.7,2244.4 L1202.7,2244.7 L1210.7,2245.1 L1218.7,2245.5 L1226.7,2245.8 L1234.7,2246.2 L1242.7,2246.6 L1250.7,2247.0 L1258.7,2247.4 L1266.7,2247.8 L1274.7,2248.2 L1282.7,2248.6 L1290.7,2249.0 L1298.7,2249.4 L1306.7,2249.8 L1314.7,2250.2 L1322.7,2250.6 L1330.7,2251.0 L1338.7,2251.5 L1346.7,2251.9 L1354.7,2252.3 L1362.7,2252.8 L1370.7,2253.2 L1378.7,2253.7 L1386.7,2254.1 L1394.7,2254.6 L1402.7,2255.0 L1410.7,2255.5 L1418.7,2256.0 L1426.7,2256.5 L1434.7,2256.9 L1442.7,2257.4 L1450.7,2257.9 L1458.7,2258.4 L1466.7,2258.9 L1474.7,2259.4 L1482.7,2259.9 L1490.7,2260.4 L1498.7,2260.9 L1506.7,2261.5 L1514.7,2262.0 L1522.7,2262.5 L1530.7,2263.0 L1538.7,2263.6 L1546.7,2264.1 L1554.7,2264.7 L1562.7,2265.2 L1570.7,2265.8 L1578.7,2266.3 L1586.7,2266.9 L1594.7,2267.5 L1602.7,2268.1 L1610.7,2268.6 L1618.7,2269.2 L1626.7,2269.8 L1634.7,2270.4 L1642.7,2271.0 L1650.7,2271.6 L1658.7,2272.3 L1666.7,2272.9 L1674.7,2273.5 L1682.7,2274.1 L1690.7,2274.8 L1698.7,2275.4 L1706.7,2276.0 L1714.7,2276.7 L1722.7,2277.4 L1730.7,2278.0 L1738.7,2278.7 L1746.7,2279.4 L1754.7,2280.0 L1762.7,2280.7 L1770.7,2281.4 L1778.7,2282.1 L1786.7,2282.8 L1794.7,2283.5 L1802.7,2284.2 L1810.7,2284.9 L1818.7,2285.7 L1826.7,2286.4 L1834.7,2287.1 L1842.7,2287.9 L1850.7,2288.6 L1858.7,2289.4 L1866.7,2290.1 L1874.7,2290.9 L1882.7,2291.7 L1890.7,2292.4 L1898.7,2293.2 L1906.7,2294.0 L1914.7,2294.8 L1922.7,2295.6 L1930.7,2296.4 L1938.7,2297.2 L1946.7,2298.0 L1954.7,2298.9 L1962.7,2299.7 L1970.7,2300.5 L1978.7,2301.4 L1986.7,2302.2 L1994.7,2303.1 L2002.7,2303.9 L2010.7,2304.8 L2018.7,2305.7 L2026.7,2306.6 L2034.7,2307.5 L2042.7,2308.4 L2050.7,2309.3 L2058.7,2310.2 L2066.7,2311.1 L2074.7,2312.0 L2082.7,2312.9 L2090.7,2313.9 L2098.7,2314.8 L2106.7,2315.8 L2114.7,2316.7 L2122.7,2317.7 L2130.7,2318.7 L2138.7,2319.6 L2146.7,2320.6 L2154.7,2321.6 L2162.7,2322.6 L2170.7,2323.6 L2178.7,2324.6 L2186.7,2325.6 L2194.7,2326.7 L2202.7,2327.7 L2210.7,2328.7 L2218.7,2329.8 L2226.7,2330.8 L2234.7,2331.9 L2242.7,2333.0 L2250.7,2334.0 L2258.7,2335.1 L2266.7,2336.2 L2274.7,2337.3 L2282.7,2338.4 L2290.7,2339.5 L2298.7,2340.6 L2306.7,2341.8 L2314.7,2342.9 L2322.7,2344.0 L2330.7,2345.2 L2338.7,2346.4 L2346.7,2347.5 L2354.7,2348.7 L2362.7,2349.9 L2370.7,2351.1 L2378.7,2352.3 L2386.7,2353.5 L2394.7,2354.7 L2402.7,2355.9 L2410.7,2357.1 L2418.7,2358.3 L2426.7,2359.6 L2434.7,2360.8 L2442.7,2362.1 L2450.7,2363.4 L2458.7,2364.6 L2466.7,2365.9 L2474.7,2367.2 L2482.7,2368.5 L2490.7,2369.8 L2498.7,2371.1 L2506.7,2372.5 L2514.7,2373.8 L2522.7,2375.1 L2530.7,2376.5 L2538.7,2377.8 L2546.7,2379.2 L2554.7,2380.6 L2562.7,2381.9 L2570.7,2383.3 L2578.7,2384.7 L2586.7,2386.1 L2594.7,2387.5 L2602.7,2389.0 L2610.7,2390.4 L2618.7,2391.8 L2626.7,2393.3 L2634.7,2394.7 L2642.7,2396.2 L2650.7,2397.7 L2658.7,2399.2 L2666.7,2400.7 L2674.7,2402.2 L2682.7,2403.7 L2690.7,2405.2 L2698.7,2406.7 L2706.7,2408.3 L2714.7,2409.8 L2722.7,2411.4 L2730.7,2412.9 L2738.7,2414.5 L2746.7,2416.1 L2754.7,2417.7 L2762.7,2419.3 L2770.7,2420.9 L2778.7,2422.5 L2786.7,2424.1 L2794.7,2425.7 L2802.7,2427.4 L2810.7,2429.0 L2818.7,2430.7 L2826.7,2432.4 L2834.7,2434.1 L2842.7,2435.7 L2850.7,2437.4 L2858.7,2439.2 L2866.7,2440.9 L2874.7,2442.6 L2882.7,2444.3 L2890.7,2446.1 L2898.7,2447.8 L2906.7,2449.6 L2914.7,2451.4 L2922.7,2453.2 L2930.7,2455.0 L2938.7,2456.8 L2946.7,2458.6 L2954.7,2460.4 L2962.7,2462.3 L2970.7,2464.1 L2978.7,2466.0 L2986.7,2467.8 L2994.7,2469.7 L3002.7,2471.6 L3010.7,2473.5 L3018.7,2475.4 L3026.7,2477.3 L3034.7,2479.2 L3042.7,2481.1 L3050.7,2483.1 L3058.7,2485.0 L3066.7,2487.0 L3074.7,2489.0 L3082.7,2491.0 L3090.7,2493.0 L3098.7,2495.0 L3106.7,2497.0 L3114.7,2499.1 L3122.7,2501.1 L3130.7,2503.2 L3138.7,2505.3 L3146.7,2507.4 L3154.7,2509.5 L3162.7,2511.6 L3170.7,2513.8 L3178.7,2515.9 L3186.7,2518.1 L3194.7,2520.3 L3202.7,2522.5 L3210.7,2524.7 L3218.7,2527.0 L3226.7,2529.3 L3234.7,2531.5 L3242.7,2533.8 L3250.7,2536.1 L3258.7,2538.5 L3266.7,2540.8 L3274.7,2543.2 L3282.7,2545.6 L3290.7,2548.0 L3298.7,2550.4 L3306.7,2552.9 L3314.7,2555.3 L3322.7,2557.8 L3330.7,2560.3 L3338.7,2562.9 L3346.7,2565.4 L3354.7,2568.0 L3362.7,2570.6 L3370.7,2573.2 L3378.7,2575.8 L3386.7,2578.5 L3394.7,2581.2 L3402.7,2583.9 L3410.7,2586.6 L3418.7,2589.4 L3426.7,2592.2 L3434.7,2595.0 L3442.7,2597.8 L3450.7,2600.7 L3458.7,2603.6 L3466.7,2606.5 L3474.7,2609.4 L3482.7,2612.4 L3490.7,2615.4 L3498.7,2618.4 L3506.7,2621.4 L3514.7,2624.5 L3522.7,2627.6 L3530.7,2630.7 L3538.7,2633.9 L3546.7,2637.1 L3554.7,2640.3 L3562.7,2643.5 L3570.7,2646.8 L3578.7,2650.1 L3586.7,2653.4 L3594.7,2656.8 L3602.7,2660.2 L3610.7,2663.6 L3618.7,2667.0 L3626.7,2670.5 L3634.7,2674.0 L3642.7,2677.4 L3650.7,2680.9 L3658.7,2684.4 L3666.7,2687.8 L3674.7,2691.2 L3682.7,2694.6 L3690.7,2698.0 L3698.7,2701.3 L3706.7,2704.6 L3713.5,2707.4" fill="none" stroke="#E8521F" stroke-width="7.2" stroke-linejoin="round" stroke-linecap="butt"/>
<line x1="518.0" y1="2465.2" x2="627.4" y2="2465.2" stroke="#E8521F" stroke-width="7.2" stroke-linecap="butt"/>
<line x1="737.0" y1="2464.0" x2="848.3" y2="2462.0" stroke="#E8521F" stroke-width="7.2" stroke-linecap="butt"/>
<line x1="958.4" y1="2463.0" x2="1068.2" y2="2466.8" stroke="#E8521F" stroke-width="7.2" stroke-linecap="butt"/>
<path d="M1106.7,2467.7 L1114.7,2468.0 L1122.7,2468.3 L1130.7,2468.6 L1138.7,2468.9 L1146.7,2469.2 L1154.7,2469.5 L1162.7,2469.8 L1170.7,2470.1 L1178.7,2470.4 L1186.7,2470.7 L1194.7,2471.0 L1202.7,2471.3 L1210.7,2471.6 L1218.7,2472.0 L1226.7,2472.3 L1234.7,2472.6 L1242.7,2472.9 L1250.7,2473.2 L1258.7,2473.5 L1266.7,2473.8 L1274.7,2474.2 L1282.7,2474.5 L1290.7,2474.8 L1298.7,2475.1 L1306.7,2475.4 L1314.7,2475.7 L1322.7,2476.1 L1330.7,2476.4 L1338.7,2476.7 L1346.7,2477.0 L1354.7,2477.4 L1362.7,2477.7 L1370.7,2478.0 L1378.7,2478.4 L1386.7,2478.7 L1394.7,2479.0 L1402.7,2479.4 L1410.7,2479.7 L1418.7,2480.0 L1426.7,2480.4 L1434.7,2480.7 L1442.7,2481.1 L1450.7,2481.4 L1458.7,2481.8 L1466.7,2482.1 L1474.7,2482.4 L1482.7,2482.8 L1490.7,2483.2 L1498.7,2483.5 L1506.7,2483.9 L1514.7,2484.2 L1522.7,2484.6 L1530.7,2485.0 L1538.7,2485.3 L1546.7,2485.7 L1554.7,2486.1 L1562.7,2486.4 L1570.7,2486.8 L1578.7,2487.2 L1586.7,2487.6 L1594.7,2487.9 L1602.7,2488.3 L1610.7,2488.7 L1618.7,2489.1 L1626.7,2489.5 L1634.7,2489.9 L1642.7,2490.3 L1650.7,2490.7 L1658.7,2491.1 L1666.7,2491.5 L1674.7,2491.9 L1682.7,2492.3 L1690.7,2492.7 L1698.7,2493.1 L1706.7,2493.5 L1714.7,2493.9 L1722.7,2494.4 L1730.7,2494.8 L1738.7,2495.2 L1746.7,2495.6 L1754.7,2496.1 L1762.7,2496.5 L1770.7,2497.0 L1778.7,2497.4 L1786.7,2497.8 L1794.7,2498.3 L1802.7,2498.8 L1810.7,2499.2 L1818.7,2499.7 L1826.7,2500.1 L1834.7,2500.6 L1842.7,2501.1 L1850.7,2501.5 L1858.7,2502.0 L1866.7,2502.5 L1874.7,2503.0 L1882.7,2503.5 L1890.7,2503.9 L1898.7,2504.4 L1906.7,2504.9 L1914.7,2505.4 L1922.7,2505.9 L1930.7,2506.5 L1938.7,2507.0 L1946.7,2507.5 L1954.7,2508.0 L1962.7,2508.5 L1970.7,2509.0 L1978.7,2509.6 L1986.7,2510.1 L1994.7,2510.7 L2002.7,2511.2 L2010.7,2511.7 L2018.7,2512.3 L2026.7,2512.9 L2034.7,2513.4 L2042.7,2514.0 L2050.7,2514.5 L2058.7,2515.1 L2066.7,2515.7 L2074.7,2516.3 L2082.7,2516.9 L2090.7,2517.5 L2098.7,2518.0 L2106.7,2518.6 L2114.7,2519.3 L2122.7,2519.9 L2130.7,2520.5 L2138.7,2521.1 L2146.7,2521.7 L2154.7,2522.3 L2162.7,2523.0 L2170.7,2523.6 L2178.7,2524.2 L2186.7,2524.9 L2194.7,2525.5 L2202.7,2526.2 L2210.7,2526.9 L2218.7,2527.5 L2226.7,2528.2 L2234.7,2528.9 L2242.7,2529.6 L2250.7,2530.2 L2258.7,2530.9 L2266.7,2531.6 L2274.7,2532.3 L2282.7,2533.0 L2290.7,2533.8 L2298.7,2534.5 L2306.7,2535.2 L2314.7,2535.9 L2322.7,2536.7 L2330.7,2537.4 L2338.7,2538.1 L2346.7,2538.9 L2354.7,2539.6 L2362.7,2540.4 L2370.7,2541.2 L2378.7,2541.9 L2386.7,2542.7 L2394.7,2543.5 L2402.7,2544.3 L2410.7,2545.1 L2418.7,2545.9 L2426.7,2546.7 L2434.7,2547.5 L2442.7,2548.3 L2450.7,2549.2 L2458.7,2550.0 L2466.7,2550.8 L2474.7,2551.7 L2482.7,2552.5 L2490.7,2553.4 L2498.7,2554.2 L2506.7,2555.1 L2514.7,2556.0 L2522.7,2556.9 L2530.7,2557.8 L2538.7,2558.7 L2546.7,2559.6 L2554.7,2560.5 L2562.7,2561.4 L2570.7,2562.3 L2578.7,2563.2 L2586.7,2564.2 L2594.7,2565.1 L2602.7,2566.0 L2610.7,2567.0 L2618.7,2567.9 L2626.7,2568.9 L2634.7,2569.9 L2642.7,2570.9 L2650.7,2571.9 L2658.7,2572.8 L2666.7,2573.8 L2674.7,2574.9 L2682.7,2575.9 L2690.7,2576.9 L2698.7,2577.9 L2706.7,2579.0 L2714.7,2580.0 L2722.7,2581.0 L2730.7,2582.1 L2738.7,2583.2 L2746.7,2584.2 L2754.7,2585.3 L2762.7,2586.4 L2770.7,2587.5 L2778.7,2588.6 L2786.7,2589.7 L2794.7,2590.8 L2802.7,2591.9 L2810.7,2593.1 L2818.7,2594.2 L2826.7,2595.4 L2834.7,2596.5 L2842.7,2597.7 L2850.7,2598.8 L2858.7,2600.0 L2866.7,2601.2 L2874.7,2602.4 L2882.7,2603.6 L2890.7,2604.8 L2898.7,2606.0 L2906.7,2607.2 L2914.7,2608.5 L2922.7,2609.7 L2930.7,2611.0 L2938.7,2612.2 L2946.7,2613.5 L2954.7,2614.8 L2962.7,2616.0 L2970.7,2617.3 L2978.7,2618.6 L2986.7,2619.9 L2994.7,2621.3 L3002.7,2622.6 L3010.7,2623.9 L3018.7,2625.2 L3026.7,2626.6 L3034.7,2627.9 L3042.7,2629.3 L3050.7,2630.7 L3058.7,2632.1 L3066.7,2633.5 L3074.7,2634.9 L3082.7,2636.3 L3090.7,2637.7 L3098.7,2639.1 L3106.7,2640.5 L3114.7,2642.0 L3122.7,2643.4 L3130.7,2644.9 L3138.7,2646.4 L3146.7,2647.8 L3154.7,2649.3 L3162.7,2650.8 L3170.7,2652.3 L3178.7,2653.9 L3186.7,2655.4 L3194.7,2656.9 L3202.7,2658.5 L3210.7,2660.0 L3218.7,2661.6 L3226.7,2663.1 L3234.7,2664.7 L3242.7,2666.3 L3250.7,2667.9 L3258.7,2669.5 L3266.7,2671.1 L3274.7,2672.8 L3282.7,2674.4 L3290.7,2676.1 L3298.7,2677.7 L3306.7,2679.4 L3314.7,2681.1 L3322.7,2682.7 L3330.7,2684.4 L3338.7,2686.1 L3346.7,2687.9 L3354.7,2689.6 L3362.7,2691.3 L3370.7,2693.1 L3378.7,2694.8 L3386.7,2696.6 L3394.7,2698.4 L3402.7,2700.1 L3410.7,2701.9 L3418.7,2703.7 L3426.7,2705.6 L3434.7,2707.4 L3442.7,2709.2 L3450.7,2711.1 L3458.7,2712.9 L3466.7,2714.8 L3474.7,2716.7 L3482.7,2718.6 L3490.7,2720.5 L3498.7,2722.4 L3506.7,2724.3 L3514.7,2726.2 L3522.7,2728.2 L3530.7,2730.1 L3538.7,2732.1 L3546.7,2734.0 L3554.7,2736.0 L3562.7,2738.0 L3570.7,2740.0 L3578.7,2742.0 L3586.7,2744.1 L3594.7,2746.1 L3602.7,2748.2 L3610.7,2750.2 L3618.7,2752.3 L3626.7,2754.4 L3634.7,2756.5 L3642.7,2758.6 L3650.7,2760.7 L3658.7,2762.8 L3666.7,2764.9 L3674.7,2767.1 L3682.7,2769.3 L3690.7,2771.4 L3698.7,2773.6 L3706.7,2775.8 L3714.0,2777.8" fill="none" stroke="#E8521F" stroke-width="7.2" stroke-linejoin="round" stroke-linecap="butt"/>
<path d="M518.0,3531.9 L531.4,3528.6 L544.9,3525.3 L558.3,3522.0 L571.7,3518.6 L585.2,3515.3 L598.6,3512.0 L612.1,3508.6 L625.5,3505.2 L638.9,3501.8 L652.4,3498.4 L665.8,3495.0 L679.2,3491.6 L692.7,3488.2 L706.1,3484.7 L719.5,3481.2 L733.0,3477.8 L746.4,3474.3 L759.8,3470.8 L773.3,3467.3 L786.7,3463.8 L800.2,3460.3 L813.6,3456.8 L827.0,3453.3 L840.5,3449.8 L853.9,3446.2 L867.3,3442.7 L880.8,3439.1 L894.2,3435.6 L907.6,3432.0 L921.1,3428.4 L934.5,3424.9 L948.0,3421.3 L961.4,3417.7 L974.8,3414.2 L988.3,3410.6 L1001.7,3407.0 L1015.1,3403.4 L1028.6,3399.8 L1042.0,3396.2 L1055.4,3392.7 L1068.9,3389.1 L1082.3,3385.5 L1095.7,3381.9 L1109.2,3378.3 L1122.6,3374.7 L1136.1,3371.2 L1149.5,3367.6 L1162.9,3364.0 L1176.4,3360.4 L1189.8,3356.9 L1203.2,3353.3 L1216.7,3349.7 L1230.1,3346.2 L1243.5,3342.6 L1257.0,3339.1 L1270.4,3335.5 L1283.9,3332.0 L1297.3,3328.5 L1310.7,3324.9 L1324.2,3321.4 L1337.6,3317.9 L1351.0,3314.4 L1364.5,3310.9 L1377.9,3307.4 L1391.3,3303.9 L1404.8,3300.5 L1418.2,3297.0 L1431.6,3293.6 L1445.1,3290.1 L1458.5,3286.7 L1472.0,3283.3 L1485.4,3279.9 L1498.8,3276.5 L1512.3,3273.1 L1525.7,3269.8 L1539.1,3266.4 L1552.6,3263.1 L1566.0,3259.7 L1579.4,3256.4 L1592.9,3253.1 L1606.3,3249.8 L1619.8,3246.6 L1633.2,3243.3 L1646.6,3240.1 L1660.1,3236.9 L1673.5,3233.7 L1686.9,3230.5 L1700.4,3227.3 L1713.8,3224.2 L1727.2,3221.0 L1740.7,3217.9 L1754.1,3214.8 L1767.5,3211.8 L1781.0,3208.7 L1794.4,3205.7 L1807.9,3202.7 L1821.3,3199.7 L1834.7,3196.7 L1848.2,3193.8 L1861.6,3190.9 L1875.0,3188.0 L1888.5,3185.1 L1901.9,3182.2 L1915.3,3179.4 L1928.8,3176.6 L1942.2,3173.8 L1955.7,3171.0 L1969.1,3168.3 L1982.5,3165.6 L1996.0,3162.9 L2009.4,3160.3 L2022.8,3157.7 L2036.3,3155.1 L2049.7,3152.5 L2063.1,3149.9 L2076.6,3147.4 L2090.0,3144.9 L2103.4,3142.5 L2116.9,3140.1 L2130.3,3137.7 L2143.8,3135.3 L2157.2,3133.0 L2170.6,3130.6 L2184.1,3128.4 L2197.5,3126.1 L2210.9,3123.9 L2224.4,3121.7 L2237.8,3119.6 L2251.2,3117.5 L2264.7,3115.4 L2278.1,3113.4 L2291.5,3111.4 L2305.0,3109.4 L2318.4,3107.4 L2331.9,3105.5 L2345.3,3103.7 L2358.7,3101.8 L2372.2,3100.1 L2385.6,3098.3 L2399.0,3096.6 L2412.5,3094.9 L2425.9,3093.3 L2439.3,3091.7 L2452.8,3090.1 L2466.2,3088.6 L2479.7,3087.1 L2493.1,3085.6 L2506.5,3084.2 L2520.0,3082.9 L2533.4,3081.5 L2546.8,3080.3 L2560.3,3079.0 L2573.7,3077.8 L2587.1,3076.7 L2600.6,3075.6 L2614.0,3074.5 L2627.4,3073.5 L2640.9,3072.5 L2654.3,3071.6 L2667.8,3070.7 L2681.2,3069.8 L2694.6,3069.0 L2708.1,3068.3 L2721.5,3067.6 L2734.9,3067.0 L2748.4,3066.4 L2761.8,3065.8 L2775.2,3065.3 L2788.7,3064.9 L2802.1,3064.5 L2815.6,3064.2 L2829.0,3064.0 L2842.4,3063.8 L2855.9,3063.6 L2869.3,3063.6 L2882.7,3063.6 L2896.2,3063.6 L2909.6,3063.7 L2923.0,3063.9 L2936.5,3064.2 L2949.9,3064.5 L2963.3,3064.9 L2976.8,3065.4 L2990.2,3065.9 L3003.7,3066.6 L3017.1,3067.3 L3030.5,3068.0 L3044.0,3068.9 L3057.4,3069.8 L3070.8,3070.8 L3084.3,3071.9 L3097.7,3073.1 L3111.1,3074.4 L3124.6,3075.7 L3138.0,3077.1 L3151.5,3078.7 L3164.9,3080.3 L3178.3,3082.0 L3191.8,3083.8 L3205.2,3085.7 L3218.6,3087.6 L3232.1,3089.7 L3245.5,3091.9 L3258.9,3094.1 L3272.4,3096.5 L3285.8,3099.0 L3299.2,3101.5 L3312.7,3104.2 L3326.1,3107.0 L3339.6,3109.8 L3353.0,3112.8 L3366.4,3115.9 L3379.9,3119.1 L3393.3,3122.4 L3406.7,3125.8 L3420.2,3129.3 L3433.6,3133.0 L3447.0,3136.7 L3460.5,3140.6 L3473.9,3144.6 L3487.4,3148.7 L3500.8,3152.9 L3514.2,3157.2 L3527.7,3161.7 L3541.1,3166.3 L3554.5,3171.0 L3568.0,3175.8 L3581.4,3180.8 L3594.8,3185.8 L3608.3,3191.1 L3621.7,3196.4 L3635.1,3201.9 L3648.6,3207.5 L3662.0,3213.2 L3675.5,3219.1 L3688.9,3225.1 L3702.3,3231.2 L3715.8,3237.5 L3729.2,3243.9" fill="none" stroke="#E8521F" stroke-width="7.2" stroke-linejoin="round"/>
<rect x="518.0" y="684.4" width="3567.5" height="2244.0" fill="none" stroke="#111111" stroke-width="4.4"/>
<path d="M518.0,3532.5 L518.0,3002.5 L4085.5,3002.5 L4085.5,3532.5" fill="none" stroke="#111111" stroke-width="4.4"/>
<line x1="515.8" y1="3533.0" x2="4087.7" y2="3533.0" stroke="#383838" stroke-width="6" stroke-linecap="butt"/>
<line x1="516.0" y1="567.0" x2="4087.4" y2="567.0" stroke="#111111" stroke-width="4.4" stroke-linecap="butt"/>
<line x1="518.1" y1="542.5" x2="518.1" y2="567.0" stroke="#111111" stroke-width="3.8" stroke-linecap="butt"/>
<line x1="788.3" y1="542.5" x2="788.3" y2="567.0" stroke="#111111" stroke-width="3.8" stroke-linecap="butt"/>
<line x1="1058.5" y1="542.5" x2="1058.5" y2="567.0" stroke="#111111" stroke-width="3.8" stroke-linecap="butt"/>
<line x1="1328.7" y1="542.5" x2="1328.7" y2="567.0" stroke="#111111" stroke-width="3.8" stroke-linecap="butt"/>
<line x1="1598.9" y1="542.5" x2="1598.9" y2="567.0" stroke="#111111" stroke-width="3.8" stroke-linecap="butt"/>
<line x1="1869.1" y1="542.5" x2="1869.1" y2="567.0" stroke="#111111" stroke-width="3.8" stroke-linecap="butt"/>
<line x1="2139.3" y1="542.5" x2="2139.3" y2="567.0" stroke="#111111" stroke-width="3.8" stroke-linecap="butt"/>
<line x1="2409.5" y1="542.5" x2="2409.5" y2="567.0" stroke="#111111" stroke-width="3.8" stroke-linecap="butt"/>
<line x1="2679.7" y1="542.5" x2="2679.7" y2="567.0" stroke="#111111" stroke-width="3.8" stroke-linecap="butt"/>
<line x1="2949.9" y1="542.5" x2="2949.9" y2="567.0" stroke="#111111" stroke-width="3.8" stroke-linecap="butt"/>
<line x1="3220.1" y1="542.5" x2="3220.1" y2="567.0" stroke="#111111" stroke-width="3.8" stroke-linecap="butt"/>
<line x1="3490.3" y1="542.5" x2="3490.3" y2="567.0" stroke="#111111" stroke-width="3.8" stroke-linecap="butt"/>
<line x1="3760.5" y1="542.5" x2="3760.5" y2="567.0" stroke="#111111" stroke-width="3.8" stroke-linecap="butt"/>
<line x1="518.1" y1="655.9" x2="518.1" y2="684.4" stroke="#111111" stroke-width="3.8" stroke-linecap="butt"/>
<line x1="842.5" y1="655.9" x2="842.5" y2="684.4" stroke="#111111" stroke-width="3.8" stroke-linecap="butt"/>
<line x1="1166.9" y1="655.9" x2="1166.9" y2="684.4" stroke="#111111" stroke-width="3.8" stroke-linecap="butt"/>
<line x1="1491.3" y1="655.9" x2="1491.3" y2="684.4" stroke="#111111" stroke-width="3.8" stroke-linecap="butt"/>
<line x1="1815.7" y1="655.9" x2="1815.7" y2="684.4" stroke="#111111" stroke-width="3.8" stroke-linecap="butt"/>
<line x1="2140.1" y1="655.9" x2="2140.1" y2="684.4" stroke="#111111" stroke-width="3.8" stroke-linecap="butt"/>
<line x1="2464.5" y1="655.9" x2="2464.5" y2="684.4" stroke="#111111" stroke-width="3.8" stroke-linecap="butt"/>
<line x1="2788.9" y1="655.9" x2="2788.9" y2="684.4" stroke="#111111" stroke-width="3.8" stroke-linecap="butt"/>
<line x1="3113.3" y1="655.9" x2="3113.3" y2="684.4" stroke="#111111" stroke-width="3.8" stroke-linecap="butt"/>
<line x1="3437.7" y1="655.9" x2="3437.7" y2="684.4" stroke="#111111" stroke-width="3.8" stroke-linecap="butt"/>
<line x1="3762.1" y1="655.9" x2="3762.1" y2="684.4" stroke="#111111" stroke-width="3.8" stroke-linecap="butt"/>
<line x1="4085.5" y1="2931.3" x2="4110.0" y2="2931.3" stroke="#111111" stroke-width="3.8" stroke-linecap="butt"/>
<line x1="4085.5" y1="2677.0" x2="4110.0" y2="2677.0" stroke="#111111" stroke-width="3.8" stroke-linecap="butt"/>
<line x1="4085.5" y1="2423.7" x2="4110.0" y2="2423.7" stroke="#111111" stroke-width="3.8" stroke-linecap="butt"/>
<line x1="4085.5" y1="2170.9" x2="4110.0" y2="2170.9" stroke="#111111" stroke-width="3.8" stroke-linecap="butt"/>
<line x1="4085.5" y1="1917.0" x2="4110.0" y2="1917.0" stroke="#111111" stroke-width="3.8" stroke-linecap="butt"/>
<line x1="4085.5" y1="1663.8" x2="4110.0" y2="1663.8" stroke="#111111" stroke-width="3.8" stroke-linecap="butt"/>
<line x1="4085.5" y1="1410.4" x2="4110.0" y2="1410.4" stroke="#111111" stroke-width="3.8" stroke-linecap="butt"/>
<line x1="4085.5" y1="1156.6" x2="4110.0" y2="1156.6" stroke="#111111" stroke-width="3.8" stroke-linecap="butt"/>
<line x1="4085.5" y1="902.7" x2="4110.0" y2="902.7" stroke="#111111" stroke-width="3.8" stroke-linecap="butt"/>
<line x1="523.5" y1="3646.3" x2="4092.4" y2="3646.3" stroke="#111111" stroke-width="4.4" stroke-linecap="butt"/>
<line x1="525.7" y1="3646.3" x2="525.7" y2="3670.3" stroke="#111111" stroke-width="3.8" stroke-linecap="butt"/>
<line x1="1119.0" y1="3646.3" x2="1119.0" y2="3670.3" stroke="#111111" stroke-width="3.8" stroke-linecap="butt"/>
<line x1="1714.1" y1="3646.3" x2="1714.1" y2="3670.3" stroke="#111111" stroke-width="3.8" stroke-linecap="butt"/>
<line x1="2301.5" y1="3646.3" x2="2301.5" y2="3670.3" stroke="#111111" stroke-width="3.8" stroke-linecap="butt"/>
<line x1="2903.5" y1="3646.3" x2="2903.5" y2="3670.3" stroke="#111111" stroke-width="3.8" stroke-linecap="butt"/>
<line x1="3497.8" y1="3646.3" x2="3497.8" y2="3670.3" stroke="#111111" stroke-width="3.8" stroke-linecap="butt"/>
<text class="r" x="501.7" y="524.1" font-size="58" font-weight="normal" fill="#111111" textLength="34.8" lengthAdjust="spacingAndGlyphs">0</text>
<text class="r" x="771.9" y="524.1" font-size="58" font-weight="normal" fill="#111111" textLength="34.8" lengthAdjust="spacingAndGlyphs">2</text>
<text class="r" x="1042.3" y="524.1" font-size="58" font-weight="normal" fill="#111111" textLength="34.8" lengthAdjust="spacingAndGlyphs">4</text>
<text class="r" x="1312.1" y="524.1" font-size="58" font-weight="normal" fill="#111111" textLength="34.8" lengthAdjust="spacingAndGlyphs">6</text>
<text class="r" x="1582.5" y="524.1" font-size="58" font-weight="normal" fill="#111111" textLength="34.8" lengthAdjust="spacingAndGlyphs">8</text>
<text class="r" x="1834.1" y="524.1" font-size="58" font-weight="normal" fill="#111111" textLength="69.7" lengthAdjust="spacingAndGlyphs">10</text>
<text class="r" x="2104.7" y="524.1" font-size="58" font-weight="normal" fill="#111111" textLength="69.7" lengthAdjust="spacingAndGlyphs">12</text>
<text class="r" x="2374.2" y="524.1" font-size="58" font-weight="normal" fill="#111111" textLength="69.7" lengthAdjust="spacingAndGlyphs">14</text>
<text class="r" x="2644.9" y="524.1" font-size="58" font-weight="normal" fill="#111111" textLength="69.7" lengthAdjust="spacingAndGlyphs">16</text>
<text class="r" x="2915.0" y="524.1" font-size="58" font-weight="normal" fill="#111111" textLength="69.7" lengthAdjust="spacingAndGlyphs">18</text>
<text class="r" x="3185.9" y="524.1" font-size="58" font-weight="normal" fill="#111111" textLength="69.7" lengthAdjust="spacingAndGlyphs">20</text>
<text class="r" x="3456.5" y="524.1" font-size="58" font-weight="normal" fill="#111111" textLength="69.7" lengthAdjust="spacingAndGlyphs">22</text>
<text class="r" x="3726.0" y="524.1" font-size="58" font-weight="normal" fill="#111111" textLength="69.7" lengthAdjust="spacingAndGlyphs">24</text>
<text class="r" x="3840.9" y="524.5" font-size="58" font-weight="normal" fill="#111111" textLength="238.4" lengthAdjust="spacingAndGlyphs">US gpm</text>
<text class="r" x="501.2" y="637.9" font-size="58" font-weight="normal" fill="#111111" textLength="34.8" lengthAdjust="spacingAndGlyphs">0</text>
<text class="r" x="825.6" y="637.9" font-size="58" font-weight="normal" fill="#111111" textLength="34.8" lengthAdjust="spacingAndGlyphs">2</text>
<text class="r" x="1150.2" y="637.9" font-size="58" font-weight="normal" fill="#111111" textLength="34.8" lengthAdjust="spacingAndGlyphs">4</text>
<text class="r" x="1474.2" y="637.9" font-size="58" font-weight="normal" fill="#111111" textLength="34.8" lengthAdjust="spacingAndGlyphs">6</text>
<text class="r" x="1798.8" y="637.9" font-size="58" font-weight="normal" fill="#111111" textLength="34.8" lengthAdjust="spacingAndGlyphs">8</text>
<text class="r" x="2104.6" y="637.9" font-size="58" font-weight="normal" fill="#111111" textLength="69.7" lengthAdjust="spacingAndGlyphs">10</text>
<text class="r" x="2429.4" y="637.9" font-size="58" font-weight="normal" fill="#111111" textLength="69.7" lengthAdjust="spacingAndGlyphs">12</text>
<text class="r" x="2753.1" y="637.9" font-size="58" font-weight="normal" fill="#111111" textLength="69.7" lengthAdjust="spacingAndGlyphs">14</text>
<text class="r" x="3078.0" y="637.9" font-size="58" font-weight="normal" fill="#111111" textLength="69.7" lengthAdjust="spacingAndGlyphs">16</text>
<text class="r" x="3402.3" y="637.9" font-size="58" font-weight="normal" fill="#111111" textLength="69.7" lengthAdjust="spacingAndGlyphs">18</text>
<text class="r" x="3727.4" y="637.9" font-size="58" font-weight="normal" fill="#111111" textLength="69.7" lengthAdjust="spacingAndGlyphs">20</text>
<text class="r" x="3850.9" y="638.5" font-size="58" font-weight="normal" fill="#111111" textLength="276.3" lengthAdjust="spacingAndGlyphs">Imp gpm</text>
<text class="r" x="454.4" y="2934.2" font-size="58" font-weight="normal" fill="#111111" textLength="34.8" lengthAdjust="spacingAndGlyphs">0</text>
<text class="r" x="419.8" y="2688.0" font-size="58" font-weight="normal" fill="#111111" textLength="69.7" lengthAdjust="spacingAndGlyphs">15</text>
<text class="r" x="419.6" y="2440.5" font-size="58" font-weight="normal" fill="#111111" textLength="69.7" lengthAdjust="spacingAndGlyphs">30</text>
<text class="r" x="419.8" y="2195.1" font-size="58" font-weight="normal" fill="#111111" textLength="69.7" lengthAdjust="spacingAndGlyphs">45</text>
<text class="r" x="419.6" y="1949.3" font-size="58" font-weight="normal" fill="#111111" textLength="69.7" lengthAdjust="spacingAndGlyphs">60</text>
<text class="r" x="419.8" y="1702.0" font-size="58" font-weight="normal" fill="#111111" textLength="69.7" lengthAdjust="spacingAndGlyphs">75</text>
<text class="r" x="419.6" y="1455.9" font-size="58" font-weight="normal" fill="#111111" textLength="69.7" lengthAdjust="spacingAndGlyphs">90</text>
<text class="r" x="384.9" y="1209.3" font-size="58" font-weight="normal" fill="#111111" textLength="104.5" lengthAdjust="spacingAndGlyphs">105</text>
<text class="r" x="384.7" y="963.5" font-size="58" font-weight="normal" fill="#111111" textLength="104.5" lengthAdjust="spacingAndGlyphs">120</text>
<text class="r" x="384.9" y="716.5" font-size="58" font-weight="normal" fill="#111111" textLength="104.5" lengthAdjust="spacingAndGlyphs">135</text>
<text class="r" x="4125.6" y="2940.5" font-size="58" font-weight="normal" fill="#111111" textLength="34.8" lengthAdjust="spacingAndGlyphs">0</text>
<text class="r" x="4125.5" y="2688.5" font-size="58" font-weight="normal" fill="#111111" textLength="69.7" lengthAdjust="spacingAndGlyphs">50</text>
<text class="r" x="4123.2" y="2435.1" font-size="58" font-weight="normal" fill="#111111" textLength="104.5" lengthAdjust="spacingAndGlyphs">100</text>
<text class="r" x="4123.2" y="2183.1" font-size="58" font-weight="normal" fill="#111111" textLength="104.5" lengthAdjust="spacingAndGlyphs">150</text>
<text class="r" x="4124.8" y="1931.5" font-size="58" font-weight="normal" fill="#111111" textLength="104.5" lengthAdjust="spacingAndGlyphs">200</text>
<text class="r" x="4124.8" y="1678.8" font-size="58" font-weight="normal" fill="#111111" textLength="104.5" lengthAdjust="spacingAndGlyphs">250</text>
<text class="r" x="4125.6" y="1428.2" font-size="58" font-weight="normal" fill="#111111" textLength="104.5" lengthAdjust="spacingAndGlyphs">300</text>
<text class="r" x="4125.6" y="1176.5" font-size="58" font-weight="normal" fill="#111111" textLength="104.5" lengthAdjust="spacingAndGlyphs">350</text>
<text class="r" x="4126.6" y="924.3" font-size="58" font-weight="normal" fill="#111111" textLength="104.5" lengthAdjust="spacingAndGlyphs">400</text>
<text class="r" x="4127.1" y="719.7" font-size="58" font-weight="normal" fill="#111111" textLength="107.4" lengthAdjust="spacingAndGlyphs">feet</text>
<text class="r" x="291.6" y="3025.0" font-size="58" font-weight="normal" fill="#111111" textLength="189.2" lengthAdjust="spacingAndGlyphs">Eta(%)</text>
<text class="r" x="419.6" y="3087.5" font-size="58" font-weight="normal" fill="#111111" textLength="69.7" lengthAdjust="spacingAndGlyphs">60</text>
<text class="r" x="419.6" y="3237.2" font-size="58" font-weight="normal" fill="#111111" textLength="69.7" lengthAdjust="spacingAndGlyphs">40</text>
<text class="r" x="419.6" y="3387.2" font-size="58" font-weight="normal" fill="#111111" textLength="69.7" lengthAdjust="spacingAndGlyphs">20</text>
<text class="r" x="454.4" y="3538.5" font-size="58" font-weight="normal" fill="#111111" textLength="34.8" lengthAdjust="spacingAndGlyphs">0</text>
<text class="r" x="505.6" y="3601.2" font-size="58" font-weight="normal" fill="#111111" textLength="34.8" lengthAdjust="spacingAndGlyphs">0</text>
<text class="r" x="844.5" y="3601.2" font-size="58" font-weight="normal" fill="#111111" textLength="69.7" lengthAdjust="spacingAndGlyphs">10</text>
<text class="r" x="1202.0" y="3601.2" font-size="58" font-weight="normal" fill="#111111" textLength="69.7" lengthAdjust="spacingAndGlyphs">20</text>
<text class="r" x="1559.0" y="3601.2" font-size="58" font-weight="normal" fill="#111111" textLength="69.7" lengthAdjust="spacingAndGlyphs">30</text>
<text class="r" x="1916.3" y="3601.2" font-size="58" font-weight="normal" fill="#111111" textLength="69.7" lengthAdjust="spacingAndGlyphs">40</text>
<text class="r" x="2271.9" y="3601.2" font-size="58" font-weight="normal" fill="#111111" textLength="69.7" lengthAdjust="spacingAndGlyphs">50</text>
<text class="r" x="2628.6" y="3601.2" font-size="58" font-weight="normal" fill="#111111" textLength="69.7" lengthAdjust="spacingAndGlyphs">60</text>
<text class="r" x="2985.0" y="3601.2" font-size="58" font-weight="normal" fill="#111111" textLength="69.7" lengthAdjust="spacingAndGlyphs">70</text>
<text class="r" x="3342.3" y="3601.2" font-size="58" font-weight="normal" fill="#111111" textLength="69.7" lengthAdjust="spacingAndGlyphs">80</text>
<text class="r" x="3699.1" y="3601.2" font-size="58" font-weight="normal" fill="#111111" textLength="69.7" lengthAdjust="spacingAndGlyphs">90</text>
<text class="r" x="3959.1" y="3602.0" font-size="58" font-weight="normal" fill="#111111" textLength="152.2" lengthAdjust="spacingAndGlyphs">l/min</text>
<text class="r" x="505.6" y="3738.9" font-size="58" font-weight="normal" fill="#111111" textLength="34.8" lengthAdjust="spacingAndGlyphs">0</text>
<text class="r" x="1100.2" y="3738.9" font-size="58" font-weight="normal" fill="#111111" textLength="34.8" lengthAdjust="spacingAndGlyphs">1</text>
<text class="r" x="1696.2" y="3738.9" font-size="58" font-weight="normal" fill="#111111" textLength="34.8" lengthAdjust="spacingAndGlyphs">2</text>
<text class="r" x="2283.8" y="3738.9" font-size="58" font-weight="normal" fill="#111111" textLength="34.8" lengthAdjust="spacingAndGlyphs">3</text>
<text class="r" x="2885.8" y="3738.9" font-size="58" font-weight="normal" fill="#111111" textLength="34.8" lengthAdjust="spacingAndGlyphs">4</text>
<text class="r" x="3479.9" y="3738.9" font-size="58" font-weight="normal" fill="#111111" textLength="34.8" lengthAdjust="spacingAndGlyphs">5</text>
<text class="r" x="3962.2" y="3739.9" font-size="58" font-weight="normal" fill="#111111" textLength="60.0" lengthAdjust="spacingAndGlyphs">m</text>
<text class="r" x="4022.7" y="3712.0" font-size="33" font-weight="normal" fill="#111111" textLength="18.1" lengthAdjust="spacingAndGlyphs">3</text>
<text transform="translate(0,3747.4) scale(1,1.369)" class="r" x="4042.0" y="0.0" font-size="58" font-weight="normal" fill="#111111" textLength="20.6" lengthAdjust="spacingAndGlyphs">/</text>
<text class="r" x="4061.6" y="3739.9" font-size="58" font-weight="normal" fill="#111111" textLength="35.6" lengthAdjust="spacingAndGlyphs">h</text>
<text font-size="68" font-weight="bold" fill="#111111" stroke="#111111" stroke-width="1.0" stroke-linejoin="round"><tspan x="1259.7" y="848.2" textLength="38.8" lengthAdjust="spacingAndGlyphs">3</tspan><tspan x="1300.1" y="848.2" textLength="48.6" lengthAdjust="spacingAndGlyphs">X</tspan><tspan x="1350.4" y="848.2" textLength="46.2" lengthAdjust="spacingAndGlyphs">R</tspan><tspan x="1396.6" y="848.2" textLength="73.2" lengthAdjust="spacingAndGlyphs">m</tspan><tspan x="1467.6" y="848.2" textLength="39.5" lengthAdjust="spacingAndGlyphs">4</tspan><tspan x="1508.1" y="852.2" font-size="83" textLength="25.4" lengthAdjust="spacingAndGlyphs">/</tspan><tspan x="1532.8" y="848.2" textLength="38.4" lengthAdjust="spacingAndGlyphs">3</tspan><tspan x="1573.7" y="848.2" textLength="41.0" lengthAdjust="spacingAndGlyphs">0</tspan><tspan x="1615.5" y="848.2" textLength="22.6" lengthAdjust="spacingAndGlyphs">-</tspan><tspan x="1638.7" y="848.2" textLength="32.1" lengthAdjust="spacingAndGlyphs">1</tspan><tspan x="1679.4" y="848.2" textLength="18.7" lengthAdjust="spacingAndGlyphs">.</tspan><tspan x="1696.9" y="848.2" textLength="40.0" lengthAdjust="spacingAndGlyphs">5</tspan></text>
<text font-size="68" font-weight="bold" fill="#111111" stroke="#111111" stroke-width="1.0" stroke-linejoin="round"><tspan x="1259.7" y="1194.4" textLength="38.8" lengthAdjust="spacingAndGlyphs">3</tspan><tspan x="1300.1" y="1194.4" textLength="48.6" lengthAdjust="spacingAndGlyphs">X</tspan><tspan x="1350.4" y="1194.4" textLength="46.2" lengthAdjust="spacingAndGlyphs">R</tspan><tspan x="1396.6" y="1194.4" textLength="73.2" lengthAdjust="spacingAndGlyphs">m</tspan><tspan x="1467.6" y="1194.4" textLength="39.5" lengthAdjust="spacingAndGlyphs">4</tspan><tspan x="1508.1" y="1198.4" font-size="83" textLength="25.4" lengthAdjust="spacingAndGlyphs">/</tspan><tspan x="1531.8" y="1194.4" textLength="41.4" lengthAdjust="spacingAndGlyphs">2</tspan><tspan x="1574.5" y="1194.4" textLength="38.5" lengthAdjust="spacingAndGlyphs">5</tspan><tspan x="1615.5" y="1194.4" textLength="22.6" lengthAdjust="spacingAndGlyphs">-</tspan><tspan x="1638.7" y="1194.4" textLength="32.1" lengthAdjust="spacingAndGlyphs">1</tspan><tspan x="1678.9" y="1194.4" textLength="20.7" lengthAdjust="spacingAndGlyphs">.</tspan><tspan x="1695.2" y="1194.4" textLength="32.1" lengthAdjust="spacingAndGlyphs">1</tspan></text>
<text font-size="68" font-weight="bold" fill="#111111" stroke="#111111" stroke-width="1.0" stroke-linejoin="round"><tspan x="1259.7" y="1748.0" textLength="38.8" lengthAdjust="spacingAndGlyphs">3</tspan><tspan x="1300.1" y="1748.0" textLength="48.6" lengthAdjust="spacingAndGlyphs">X</tspan><tspan x="1350.4" y="1748.0" textLength="46.2" lengthAdjust="spacingAndGlyphs">R</tspan><tspan x="1396.6" y="1748.0" textLength="73.2" lengthAdjust="spacingAndGlyphs">m</tspan><tspan x="1467.6" y="1748.0" textLength="39.5" lengthAdjust="spacingAndGlyphs">4</tspan><tspan x="1508.1" y="1752.0" font-size="83" textLength="25.4" lengthAdjust="spacingAndGlyphs">/</tspan><tspan x="1533.4" y="1748.0" textLength="32.1" lengthAdjust="spacingAndGlyphs">1</tspan><tspan x="1572.6" y="1748.0" textLength="43.3" lengthAdjust="spacingAndGlyphs">7</tspan><tspan x="1615.5" y="1748.0" textLength="22.6" lengthAdjust="spacingAndGlyphs">-</tspan><tspan x="1640.4" y="1748.0" textLength="39.4" lengthAdjust="spacingAndGlyphs">0</tspan><tspan x="1678.9" y="1748.0" textLength="20.7" lengthAdjust="spacingAndGlyphs">.</tspan><tspan x="1695.8" y="1748.0" textLength="42.4" lengthAdjust="spacingAndGlyphs">7</tspan><tspan x="1740.0" y="1748.0" textLength="36.9" lengthAdjust="spacingAndGlyphs">5</tspan></text>
<text font-size="68" font-weight="bold" fill="#111111" stroke="#111111" stroke-width="1.0" stroke-linejoin="round"><tspan x="1259.7" y="1994.0" textLength="38.8" lengthAdjust="spacingAndGlyphs">3</tspan><tspan x="1300.1" y="1994.0" textLength="48.6" lengthAdjust="spacingAndGlyphs">X</tspan><tspan x="1350.4" y="1994.0" textLength="46.2" lengthAdjust="spacingAndGlyphs">R</tspan><tspan x="1396.6" y="1994.0" textLength="73.2" lengthAdjust="spacingAndGlyphs">m</tspan><tspan x="1467.6" y="1994.0" textLength="39.5" lengthAdjust="spacingAndGlyphs">4</tspan><tspan x="1508.1" y="1998.0" font-size="83" textLength="25.4" lengthAdjust="spacingAndGlyphs">/</tspan><tspan x="1533.4" y="1994.0" textLength="32.1" lengthAdjust="spacingAndGlyphs">1</tspan><tspan x="1574.3" y="1994.0" textLength="39.3" lengthAdjust="spacingAndGlyphs">3</tspan><tspan x="1615.5" y="1994.0" textLength="22.6" lengthAdjust="spacingAndGlyphs">-</tspan><tspan x="1640.4" y="1994.0" textLength="39.4" lengthAdjust="spacingAndGlyphs">0</tspan><tspan x="1678.9" y="1994.0" textLength="20.7" lengthAdjust="spacingAndGlyphs">.</tspan><tspan x="1698.4" y="1994.0" textLength="37.6" lengthAdjust="spacingAndGlyphs">5</tspan><tspan x="1739.9" y="1994.0" textLength="37.7" lengthAdjust="spacingAndGlyphs">5</tspan></text>
<text font-size="68" font-weight="bold" fill="#111111" stroke="#111111" stroke-width="1.0" stroke-linejoin="round"><tspan x="1259.7" y="2219.0" textLength="38.8" lengthAdjust="spacingAndGlyphs">3</tspan><tspan x="1300.1" y="2219.0" textLength="48.6" lengthAdjust="spacingAndGlyphs">X</tspan><tspan x="1350.4" y="2219.0" textLength="46.2" lengthAdjust="spacingAndGlyphs">R</tspan><tspan x="1396.6" y="2219.0" textLength="73.2" lengthAdjust="spacingAndGlyphs">m</tspan><tspan x="1467.6" y="2219.0" textLength="39.5" lengthAdjust="spacingAndGlyphs">4</tspan><tspan x="1508.1" y="2223.0" font-size="83" textLength="25.4" lengthAdjust="spacingAndGlyphs">/</tspan><tspan x="1531.8" y="2219.0" textLength="41.1" lengthAdjust="spacingAndGlyphs">9</tspan><tspan x="1573.1" y="2219.0" textLength="23.5" lengthAdjust="spacingAndGlyphs">-</tspan><tspan x="1598.6" y="2219.0" textLength="40.9" lengthAdjust="spacingAndGlyphs">0</tspan><tspan x="1637.0" y="2219.0" textLength="19.7" lengthAdjust="spacingAndGlyphs">.</tspan><tspan x="1655.9" y="2219.0" textLength="39.3" lengthAdjust="spacingAndGlyphs">3</tspan><tspan x="1695.8" y="2219.0" textLength="43.3" lengthAdjust="spacingAndGlyphs">7</tspan></text>
<text font-size="68" font-weight="bold" fill="#111111" stroke="#111111" stroke-width="1.0" stroke-linejoin="round"><tspan x="1259.7" y="2441.0" textLength="38.8" lengthAdjust="spacingAndGlyphs">3</tspan><tspan x="1300.1" y="2441.0" textLength="48.6" lengthAdjust="spacingAndGlyphs">X</tspan><tspan x="1350.4" y="2441.0" textLength="46.2" lengthAdjust="spacingAndGlyphs">R</tspan><tspan x="1396.6" y="2441.0" textLength="73.2" lengthAdjust="spacingAndGlyphs">m</tspan><tspan x="1467.6" y="2441.0" textLength="39.5" lengthAdjust="spacingAndGlyphs">4</tspan><tspan x="1508.1" y="2445.0" font-size="83" textLength="25.4" lengthAdjust="spacingAndGlyphs">/</tspan><tspan x="1533.9" y="2441.0" textLength="38.8" lengthAdjust="spacingAndGlyphs">6</tspan><tspan x="1573.1" y="2441.0" textLength="23.5" lengthAdjust="spacingAndGlyphs">-</tspan><tspan x="1598.6" y="2441.0" textLength="40.9" lengthAdjust="spacingAndGlyphs">0</tspan><tspan x="1637.7" y="2441.0" textLength="19.7" lengthAdjust="spacingAndGlyphs">.</tspan><tspan x="1657.2" y="2441.0" textLength="40.5" lengthAdjust="spacingAndGlyphs">2</tspan><tspan x="1697.6" y="2441.0" textLength="39.2" lengthAdjust="spacingAndGlyphs">5</tspan></text>
<text font-size="85" font-weight="bold" fill="#111111"><tspan x="1998.1" y="3919.0" textLength="56.8" lengthAdjust="spacingAndGlyphs">C</tspan><tspan x="2054.3" y="3919.0" textLength="42.9" lengthAdjust="spacingAndGlyphs">a</tspan><tspan x="2104.6" y="3919.0" textLength="53.6" lengthAdjust="spacingAndGlyphs">p</tspan><tspan x="2161.8" y="3919.0" textLength="42.9" lengthAdjust="spacingAndGlyphs">a</tspan><tspan x="2209.0" y="3919.0" textLength="46.9" lengthAdjust="spacingAndGlyphs">c</tspan><tspan x="2256.9" y="3919.0" textLength="23.9" lengthAdjust="spacingAndGlyphs">i</tspan><tspan x="2283.0" y="3919.0" textLength="32.3" lengthAdjust="spacingAndGlyphs">t</tspan><tspan x="2316.7" y="3919.0" textLength="48.3" lengthAdjust="spacingAndGlyphs">y</tspan><tspan x="2390.8" y="3919.0" textLength="70.5" lengthAdjust="spacingAndGlyphs">Q</tspan></text>
<polygon points="2527,3870.5 2527,3912 2579.6,3891" fill="#111111"/>
<text transform="translate(213.9,2062.2) rotate(-90)" font-size="85" font-weight="bold" fill="#111111"><tspan x="-6.0" y="0.0" textLength="64.4" lengthAdjust="spacingAndGlyphs">H</tspan><tspan x="58.7" y="0.0" textLength="50.7" lengthAdjust="spacingAndGlyphs">e</tspan><tspan x="108.5" y="0.0" textLength="43.3" lengthAdjust="spacingAndGlyphs">a</tspan><tspan x="158.1" y="0.0" textLength="55.9" lengthAdjust="spacingAndGlyphs">d</tspan><tspan x="243.6" y="0.0" textLength="22.6" lengthAdjust="spacingAndGlyphs">(</tspan><tspan x="268.9" y="0.0" textLength="88.5" lengthAdjust="spacingAndGlyphs">m</tspan><tspan x="364.4" y="0.0" textLength="22.7" lengthAdjust="spacingAndGlyphs">)</tspan></text>
<polygon points="166.1,1612.2 205.2,1612.2 185.6,1560.3" fill="#111111"/>
<text font-size="195" font-weight="bold" fill="#E8521F"><tspan x="64.3" y="251.4" textLength="114.9" lengthAdjust="spacingAndGlyphs">3</tspan><tspan x="182.3" y="251.4" textLength="132.0" lengthAdjust="spacingAndGlyphs">X</tspan><tspan x="318.8" y="251.4" textLength="132.0" lengthAdjust="spacingAndGlyphs">R</tspan><tspan x="509.9" y="251.4" textLength="113.0" lengthAdjust="spacingAndGlyphs">4</tspan></text>
</svg>
</body></html>
